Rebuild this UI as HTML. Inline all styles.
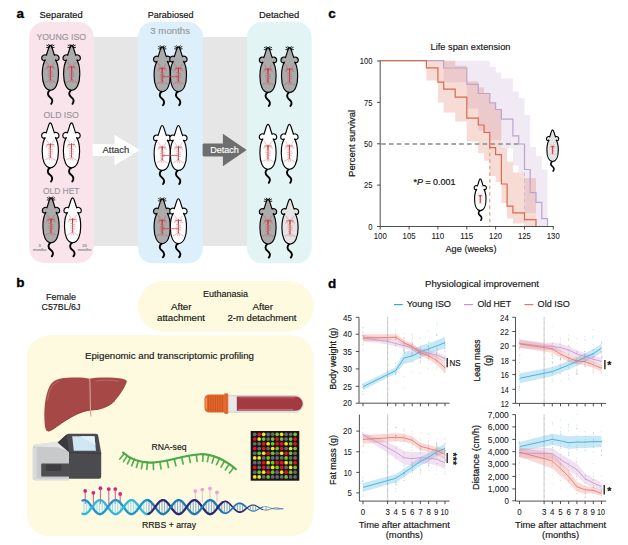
<!DOCTYPE html>
<html><head><meta charset="utf-8"><title>Figure</title>
<style>
html,body{margin:0;padding:0;background:#fff;}
body{width:628px;height:545px;overflow:hidden;font-family:"Liberation Sans",sans-serif;}
svg{display:block;}
svg text{font-family:"Liberation Sans",sans-serif;}
</style></head><body>
<svg width="628" height="545" viewBox="0 0 628 545">
<defs>
<path id="mb" d="M0,0.3 C0.9,0.3 1.5,2 2.1,4 C2.8,6.3 3.4,8.5 4.1,10.2 C5.6,9.2 8.7,10.2 8.7,12.9 C8.7,15.5 6.5,16.2 4.9,14.7 C6.6,17 8.1,22 8.1,29 C8.1,38 5.3,45.2 0,45.2 C-5.3,45.2 -8.1,38 -8.1,29 C-8.1,22 -6.6,17 -4.9,14.7 C-6.5,16.2 -8.7,15.5 -8.7,12.9 C-8.7,10.2 -5.6,9.2 -4.1,10.2 C-3.4,8.5 -2.8,6.3 -2.1,4 C-1.5,2 -0.9,0.3 0,0.3 Z"/>
<g id="mv" fill="none" stroke="#cf2c34" stroke-linecap="round">
<path d="M0,21 V34.4" stroke-width="0.75"/>
<path d="M0,21.6 V25" stroke-width="1"/>
<path d="M-3.2,21.8 L0,22.3 L3.2,21.8" stroke-width="0.5"/>
<path d="M-1,21.9 L-3.6,17.4 M1,21.9 L3.8,17.6 M-3.2,21.8 L-4.3,24.6 M3.2,21.8 L4.3,24.6 M-2,22 L-2.6,24 M2,22 L2.6,24" stroke-width="0.3"/>
<path d="M0,27 H2.2 M0,29.2 H2.5 M0,31.4 H2.2 M0,26 H-2 M0,28.4 H-2.3 M0,30.6 H-1.9 M0,32.8 H-1.6" stroke-width="0.36"/>
<path d="M0,34 L-2.5,36 L-5,37.2 M0,34 L2.6,36.2 L5.2,37.6 M0,34.4 L-1,37.4 M0,34.4 L1.2,37.6" stroke-width="0.33"/>
</g>
<path id="mt" d="M-0.3,45 C-3.2,47 -3.2,50.2 -0.4,52.2 C2.3,54.2 2.6,56.6 0.8,58.8" fill="none" stroke="#000" stroke-linecap="round"/>
<path id="mw" d="M-1,1.6 L-3.6,0.2 M-1.4,2.6 L-3.8,2.4 M1,1.6 L3.6,0.2 M1.4,2.6 L3.8,2.4 M-0.6,1 L-1.8,-0.7 M0.6,1 L1.8,-0.7" fill="none" stroke="#000" stroke-width="0.85" stroke-linecap="round"/>
<g id="my"><use href="#mt" stroke-width="1.9"/><use href="#mb" stroke="#000" stroke-width="1.15"/><use href="#mw"/><use href="#mv"/></g>
<g id="mo"><use href="#mt" stroke-width="1.9"/><use href="#mb" stroke="#000" stroke-width="1.15"/><use href="#mv"/></g>
<g id="ms"><use href="#mt" stroke-width="2.3"/><use href="#mb" stroke="#000" stroke-width="1.6"/><g transform="translate(0,7.5) scale(0.75)"><use href="#mv"/></g><path d="M0,24 V34.2 M-2,24.2 H2" stroke="#d2343a" stroke-width="1.1" fill="none"/></g>
</defs>

<rect x="93" y="37" width="160" height="209" fill="#e6e6e6"/>
<rect x="29.2" y="22" width="64.5" height="241" rx="15" fill="#f9e4ec"/>
<rect x="138" y="22" width="65" height="241.3" rx="15" fill="#dceffb"/>
<rect x="246.9" y="22" width="64.8" height="241.3" rx="15" fill="#e3f4f4"/>
<text x="16.4" y="17.7" font-size="13.5" font-weight="bold" fill="#000" stroke="#000" stroke-width="0.3">a</text>
<text x="39.5" y="18.0" font-size="9.6" fill="#111" stroke="#111" stroke-width="0.16" textLength="43.3" lengthAdjust="spacingAndGlyphs" >Separated</text>
<text x="147.8" y="18.0" font-size="9.6" fill="#111" stroke="#111" stroke-width="0.16" textLength="45.7" lengthAdjust="spacingAndGlyphs" >Parabiosed</text>
<text x="259.0" y="18.0" font-size="9.6" fill="#111" stroke="#111" stroke-width="0.16" textLength="40.2" lengthAdjust="spacingAndGlyphs" >Detached</text>
<text x="150.3" y="33.6" font-size="9.3" fill="#9a9a9a" stroke="#9a9a9a" stroke-width="0.16" textLength="39.8" lengthAdjust="spacingAndGlyphs" >3 months</text>
<text x="36.4" y="40.3" font-size="9.3" fill="#9a959a" stroke="#9a959a" stroke-width="0.16" textLength="49.7" lengthAdjust="spacingAndGlyphs" >YOUNG ISO</text>
<text x="43.5" y="118.0" font-size="9.3" fill="#9a959a" stroke="#9a959a" stroke-width="0.16" textLength="35.4" lengthAdjust="spacingAndGlyphs" >OLD ISO</text>
<text x="42.9" y="194.0" font-size="9.3" fill="#9a959a" stroke="#9a959a" stroke-width="0.16" textLength="36.6" lengthAdjust="spacingAndGlyphs" >OLD HET</text>
<path d="M92.5,144 H114.5 V134.7 L140,150 L114.5,165.3 V156 H92.5 Z" fill="#fff"/>
<path d="M204,143.4 H222.9 V133.8 L246.7,150 L222.9,166.2 V156.4 H204 Q202.6,156.4 202.6,155 V144.8 Q202.6,143.4 204,143.4 Z" fill="#6e6e6e"/>
<text x="102.5" y="153.0" font-size="9.3" fill="#333" stroke="#333" stroke-width="0.16" textLength="26.8" lengthAdjust="spacingAndGlyphs" >Attach</text>
<text x="210.2" y="152.8" font-size="9.3" fill="#fff" stroke="#fff" stroke-width="0.16" textLength="28.7" lengthAdjust="spacingAndGlyphs" >Detach</text>
<use href="#my" x="50.4" y="45" fill="#ababab"/>
<use href="#my" x="71.7" y="45" fill="#ababab"/>
<use href="#mo" x="50.3" y="122.6" fill="#ffffff"/>
<use href="#mo" x="71.5" y="122.6" fill="#ffffff"/>
<use href="#my" x="51" y="197.5" fill="#ababab"/>
<use href="#mo" x="72.6" y="197.5" fill="#ffffff"/>
<use href="#my" x="162.2" y="46.4" fill="#ababab"/>
<use href="#my" x="178.4" y="46.4" fill="#ababab"/>
<path d="M162.4,76.7 H178.2" stroke="#d2343a" stroke-width="0.7" fill="none"/>
<use href="#mo" x="162.2" y="125.2" fill="#ffffff"/>
<use href="#mo" x="178.4" y="125.2" fill="#ffffff"/>
<path d="M162.4,155.5 H178.2" stroke="#d2343a" stroke-width="0.7" fill="none"/>
<use href="#my" x="162.2" y="198.4" fill="#ababab"/>
<use href="#mo" x="178.4" y="198.4" fill="#ffffff"/>
<path d="M162.4,228.70000000000002 H178.2" stroke="#d2343a" stroke-width="0.7" fill="none"/>
<use href="#my" x="268" y="47.2" fill="#ababab"/>
<use href="#my" x="289.6" y="47.2" fill="#ababab"/>
<use href="#mo" x="268" y="124" fill="#ffffff"/>
<use href="#mo" x="289.4" y="124" fill="#ffffff"/>
<use href="#my" x="268" y="198.8" fill="#ababab"/>
<use href="#mo" x="290" y="198.8" fill="#e6e4e4"/>
<text x="39.7" y="247.4" font-size="4.1" fill="#8c8c8c" stroke="#8c8c8c" stroke-width="0.18" text-anchor="middle" >3</text>
<text x="39.7" y="251.2" font-size="4.1" fill="#8c8c8c" stroke="#8c8c8c" stroke-width="0.18" text-anchor="middle" >months</text>
<text x="84.6" y="247.4" font-size="4.1" fill="#8c8c8c" stroke="#8c8c8c" stroke-width="0.18" text-anchor="middle" >20</text>
<text x="84.6" y="251.2" font-size="4.1" fill="#8c8c8c" stroke="#8c8c8c" stroke-width="0.18" text-anchor="middle" >months</text>
<text x="328.2" y="17.7" font-size="13.5" font-weight="bold" fill="#000" stroke="#000" stroke-width="0.3">c</text>
<text x="430.5" y="50.0" font-size="9.3" fill="#161616" stroke="#161616" stroke-width="0.16" textLength="80.0" lengthAdjust="spacingAndGlyphs" >Life span extension</text>
<polygon points="443.7,60.7 489.8,60.7 489.8,66.9 495.6,66.9 495.6,72.4 501.4,72.4 501.4,78.4 512.9,78.4 512.9,91.3 518.7,91.3 518.7,98.0 524.5,98.0 524.5,115.0 530.2,115.0 530.2,147.0 536.0,147.0 536.0,156.0 541.8,156.0 541.8,169.5 547.5,169.5 547.5,226.5 547.5,226.5 547.5,226.5 547.5,226.5 547.5,226.5 536.0,226.5 536.0,212.9 524.5,212.9 524.5,172.4 518.7,172.4 518.7,165.6 512.9,165.6 512.9,148.3 501.4,148.3 501.4,140.0 489.8,140.0 489.8,130.7 478.3,130.7 478.3,108.5 466.8,108.5 466.8,82.2 443.7,82.2" fill="#c3a3cd" fill-opacity="0.24"/>
<polygon points="426.4,60.7 455.2,60.7 455.2,65.7 466.8,65.7 466.8,81.3 478.3,81.3 478.3,87.4 484.1,87.4 484.1,93.4 489.8,93.4 489.8,103.2 495.6,103.2 495.6,110.5 501.4,110.5 501.4,148.0 507.1,148.0 507.1,161.8 512.9,161.8 512.9,172.4 524.5,172.4 524.5,178.0 536.0,178.0 536.0,226.5 536.0,226.5 536.0,226.5 536.0,226.5 536.0,226.5 524.5,226.5 524.5,223.4 512.9,223.4 512.9,218.6 507.1,218.6 507.1,203.0 501.4,203.0 501.4,182.0 495.6,182.0 495.6,176.0 489.8,176.0 489.8,160.8 484.1,160.8 484.1,153.0 478.3,153.0 478.3,141.6 466.8,141.6 466.8,121.4 455.2,121.4 455.2,112.5 443.7,112.5 443.7,102.6 437.9,102.6 437.9,80.6 426.4,80.6" fill="#dc6a50" fill-opacity="0.24"/>
<path d="M381.2,144 H519" stroke="#8a8a8a" stroke-width="1.3" stroke-dasharray="4.6,3.2" fill="none"/>
<path d="M489.8,146 V226" stroke="#e08a76" stroke-width="1" stroke-dasharray="3.6,3" fill="none"/>
<path d="M524.5,146 V226" stroke="#cdbbdc" stroke-width="1" stroke-dasharray="3.6,3" fill="none"/>
<path d="M380.7,60.7 H443.7 V68.0 H466.8 V84.3 H478.3 V93.5 H489.8 V102.8 H495.6 V109.6 H501.4 V119.2 H512.9 V135.9 H518.7 V144.0 H524.5 V169.5 H530.2 V192.6 H536.0 V202.3 H541.8 V218.6 H547.5 V226.3 H547.5" stroke="#bda4cd" stroke-width="1.2" fill="none" stroke-linejoin="miter"/>
<path d="M380.7,60.7 H426.4 V67.9 H437.9 V82.2 H443.7 V89.2 H455.2 V97.2 H466.8 V118.2 H478.3 V125.0 H484.1 V132.3 H489.8 V147.7 H495.6 V154.7 H501.4 V184.0 H507.1 V206.1 H512.9 V212.9 H524.5 V219.6 H536.0 V226.3 H536.0" stroke="#d9694f" stroke-width="1.2" fill="none" stroke-linejoin="miter"/>
<path d="M380.2,60.3 V226.5 H553.8" stroke="#3a3a3a" stroke-width="0.9" fill="none"/>
<path d="M377.0,226.5 H380.2" stroke="#3a3a3a" stroke-width="0.9"/>
<text x="368.2" y="229.7" font-size="8.8" fill="#161616" stroke="#161616" stroke-width="0.08" textLength="4.2" lengthAdjust="spacingAndGlyphs">0</text>
<path d="M377.0,185.1 H380.2" stroke="#3a3a3a" stroke-width="0.9"/>
<text x="364.0" y="188.3" font-size="8.8" fill="#161616" stroke="#161616" stroke-width="0.08" textLength="8.4" lengthAdjust="spacingAndGlyphs">25</text>
<path d="M377.0,143.8 H380.2" stroke="#3a3a3a" stroke-width="0.9"/>
<text x="364.0" y="146.9" font-size="8.8" fill="#161616" stroke="#161616" stroke-width="0.08" textLength="8.4" lengthAdjust="spacingAndGlyphs">50</text>
<path d="M377.0,102.4 H380.2" stroke="#3a3a3a" stroke-width="0.9"/>
<text x="364.0" y="105.5" font-size="8.8" fill="#161616" stroke="#161616" stroke-width="0.08" textLength="8.4" lengthAdjust="spacingAndGlyphs">75</text>
<path d="M377.0,61.0 H380.2" stroke="#3a3a3a" stroke-width="0.9"/>
<text x="359.8" y="64.2" font-size="8.8" fill="#161616" stroke="#161616" stroke-width="0.08" textLength="12.6" lengthAdjust="spacingAndGlyphs">100</text>
<path d="M380.2,226.5 V229.5" stroke="#3a3a3a" stroke-width="0.9"/>
<text x="373.8" y="239.1" font-size="8.6" fill="#161616" stroke="#161616" stroke-width="0.08" textLength="12.9" lengthAdjust="spacingAndGlyphs">100</text>
<path d="M409.1,226.5 V229.5" stroke="#3a3a3a" stroke-width="0.9"/>
<text x="402.6" y="239.1" font-size="8.6" fill="#161616" stroke="#161616" stroke-width="0.08" textLength="12.9" lengthAdjust="spacingAndGlyphs">105</text>
<path d="M437.9,226.5 V229.5" stroke="#3a3a3a" stroke-width="0.9"/>
<text x="431.4" y="239.1" font-size="8.6" fill="#161616" stroke="#161616" stroke-width="0.08" textLength="12.9" lengthAdjust="spacingAndGlyphs">110</text>
<path d="M466.8,226.5 V229.5" stroke="#3a3a3a" stroke-width="0.9"/>
<text x="460.3" y="239.1" font-size="8.6" fill="#161616" stroke="#161616" stroke-width="0.08" textLength="12.9" lengthAdjust="spacingAndGlyphs">115</text>
<path d="M495.6,226.5 V229.5" stroke="#3a3a3a" stroke-width="0.9"/>
<text x="489.1" y="239.1" font-size="8.6" fill="#161616" stroke="#161616" stroke-width="0.08" textLength="12.9" lengthAdjust="spacingAndGlyphs">120</text>
<path d="M524.5,226.5 V229.5" stroke="#3a3a3a" stroke-width="0.9"/>
<text x="518.0" y="239.1" font-size="8.6" fill="#161616" stroke="#161616" stroke-width="0.08" textLength="12.9" lengthAdjust="spacingAndGlyphs">125</text>
<path d="M553.3,226.5 V229.5" stroke="#3a3a3a" stroke-width="0.9"/>
<text x="546.8" y="239.1" font-size="8.6" fill="#161616" stroke="#161616" stroke-width="0.08" textLength="12.9" lengthAdjust="spacingAndGlyphs">130</text>
<text transform="translate(355,176.9) rotate(-90)" font-size="9.3" fill="#161616" stroke="#161616" stroke-width="0.22" textLength="67" lengthAdjust="spacingAndGlyphs">Percent survival</text>
<text x="445.5" y="251.8" font-size="9.3" fill="#161616" stroke="#161616" stroke-width="0.16" textLength="51.0" lengthAdjust="spacingAndGlyphs" >Age (weeks)</text>
<text x="413.5" y="184.6" font-size="9.3" fill="#161616" stroke="#161616" stroke-width="0.22" textLength="42" lengthAdjust="spacingAndGlyphs">*<tspan font-style="italic">P</tspan> = 0.001</text>
<g transform="translate(480.3,178.7) scale(0.705)"><use href="#ms" fill="#fff"/></g>
<g transform="translate(552.6,129.6) scale(0.705)"><use href="#ms" fill="#e4e4e4"/></g>
<text x="16.2" y="287.3" font-size="13.5" font-weight="bold" fill="#000" stroke="#000" stroke-width="0.3">b</text>
<text x="46.0" y="299.6" font-size="9.3" fill="#161616" stroke="#161616" stroke-width="0.16" textLength="30.0" lengthAdjust="spacingAndGlyphs" >Female</text>
<text x="41.5" y="310.4" font-size="9.3" fill="#161616" stroke="#161616" stroke-width="0.16" textLength="39.0" lengthAdjust="spacingAndGlyphs" >C57BL/6J</text>
<rect x="137.9" y="281" width="175.8" height="50.6" rx="25.3" fill="#fdfadf"/>
<rect x="27" y="335.3" width="286.7" height="200.8" rx="22" fill="#fdfadf"/>
<text x="203.0" y="296.6" font-size="9.3" fill="#161616" stroke="#161616" stroke-width="0.16" textLength="45.0" lengthAdjust="spacingAndGlyphs" >Euthanasia</text>
<text x="171.0" y="310.4" font-size="9.3" fill="#161616" stroke="#161616" stroke-width="0.16" textLength="20.5" lengthAdjust="spacingAndGlyphs" >After</text>
<text x="157.0" y="321.0" font-size="9.3" fill="#161616" stroke="#161616" stroke-width="0.16" textLength="48.0" lengthAdjust="spacingAndGlyphs" >attachment</text>
<text x="252.5" y="310.4" font-size="9.3" fill="#161616" stroke="#161616" stroke-width="0.16" textLength="20.5" lengthAdjust="spacingAndGlyphs" >After</text>
<text x="227.5" y="321.0" font-size="9.3" fill="#161616" stroke="#161616" stroke-width="0.16" textLength="69.0" lengthAdjust="spacingAndGlyphs" >2-m detachment</text>
<text x="85.0" y="359.0" font-size="9.3" fill="#161616" stroke="#161616" stroke-width="0.16" textLength="169.0" lengthAdjust="spacingAndGlyphs" >Epigenomic and transcriptomic profiling</text>
<text x="151.5" y="450.0" font-size="9.3" fill="#161616" stroke="#161616" stroke-width="0.16" textLength="35.0" lengthAdjust="spacingAndGlyphs" >RNA-seq</text>
<text x="142.0" y="528.0" font-size="9.3" fill="#161616" stroke="#161616" stroke-width="0.16" textLength="54.0" lengthAdjust="spacingAndGlyphs" >RRBS + array</text>
<path d="M44.4,418 C44,408 45.4,395 49.5,386.6 C52.5,380.6 58,378.2 67,377.8 C76,377.3 84,377.4 89.5,378.7 C94,377.5 104,377.2 114,377.7 C121,378 127.6,379.2 126.8,381.8 C125.6,386 121,394 115,400.5 C109,406.5 101,409.6 92,409.9 C84,410.4 76,414 67,419.5 C59,424.5 53,430 48.4,431.2 C45,432 44.6,425 44.4,418 Z" fill="#a54846"/>
<path d="M48.4,431.2 C53,430 59,424.5 67,419.5 C76,414 84,410.4 92,409.9 C101,409.6 109,406.5 115,400.5" stroke="#8f3b3b" stroke-width="1" fill="none"/>
<path d="M47.6,400 C48.6,391 51.5,384 59,381.2" stroke="#bd6e68" stroke-width="1" fill="none" stroke-linecap="round"/>
<path d="M96,381 C104,379.6 112,380 118,381.2" stroke="#bd6e68" stroke-width="0.9" fill="none" stroke-linecap="round"/>
<path d="M89.6,378.7 C90.6,390 89.8,402 90.9,416" stroke="#dba097" stroke-width="1.1" fill="none" stroke-linecap="round"/>
<path d="M32.8,448 Q32.8,445.4 35,444.6 L58,441.8 L69,452 L69,480.3 L35,480.3 Q32.8,480.3 32.8,478.2 Z" fill="#c7c9cb"/>
<path d="M32.8,448 L36.6,447 L36.6,480.3 L35,480.3 Q32.8,480.3 32.8,478.2 Z" fill="#d9dadc"/>
<path d="M35,478.6 H69 V480.3 H35 Z" fill="#dcddde"/>
<path d="M33,446.6 Q33.4,444.6 35.4,444.2 L57.8,441.8 L68,451 L58,447.2 Z" fill="#e3e4e5"/>
<path d="M57.7,442.4 L66.6,434.6 Q67.4,433.8 68.6,433.8 L96,433.8 Q98,433.8 98.2,435.6 L101.2,453 L101.2,476.8 Q101.2,478.8 99.2,478.8 L69,478.8 L69,452 Z" fill="#4b4b4f"/>
<path d="M57.7,442.4 L66.6,434.6 L69,452 Z" fill="#3a3a3e"/>
<path d="M72.2,436.2 L94.4,436.2 L96,450.8 L73.8,450.8 Z" fill="#cfe6f3"/>
<path d="M80,436.2 L94.4,436.2 L95.4,445 Z" fill="#e3f1f9"/>
<path d="M69,452.6 L101.2,453.4" stroke="#333337" stroke-width="0.8"/>
<rect x="41.2" y="463.6" width="29" height="12.8" rx="1" fill="#4e4e53"/>
<path d="M46,464.4 H61.5 V469.8 Q61.5,471 60.3,471 H47.2 Q46,471 46,469.8 Z" fill="#3d3d42"/>
<rect x="220" y="395.6" width="83.2" height="16.6" rx="8.2" fill="#e8e8ea" stroke="#c4c4c8" stroke-width="0.7"/>
<path d="M236.8,396.6 H295.6 A7.1,7.1 0 0 1 295.6,410.8 H236.8 Z" fill="#a23a40"/>
<path d="M238.4,397.8 H295" stroke="#c06a70" stroke-width="0.7"/>
<path d="M238.4,409.6 H293" stroke="#d9a3a6" stroke-width="0.6"/>
<path d="M209.5,394.6 H225 V412.6 H209.5 Q204.5,412.6 204.5,407.6 V399.6 Q204.5,394.6 209.5,394.6 Z" fill="#e2652b"/>
<path d="M208.6,395.4 V411.8" stroke="#cc531f" stroke-width="0.8"/>
<path d="M210.9,395.4 V411.8" stroke="#cc531f" stroke-width="0.8"/>
<path d="M213.2,395.4 V411.8" stroke="#cc531f" stroke-width="0.8"/>
<path d="M215.5,395.4 V411.8" stroke="#cc531f" stroke-width="0.8"/>
<path d="M217.8,395.4 V411.8" stroke="#cc531f" stroke-width="0.8"/>
<path d="M220.1,395.4 V411.8" stroke="#cc531f" stroke-width="0.8"/>
<path d="M222.4,395.4 V411.8" stroke="#cc531f" stroke-width="0.8"/>
<path d="M206.2,398.5 V408.6" stroke="#ef8a52" stroke-width="1.6" stroke-linecap="round"/>
<rect x="224" y="393.2" width="4.3" height="20.7" rx="1.4" fill="#e66c31"/>
<path d="M226.2,394.2 V412.8" stroke="#cf5a24" stroke-width="0.8"/>
<rect x="250.7" y="431" width="48.6" height="49.7" fill="#161616"/>
<circle cx="254.70" cy="434.30" r="1.85" fill="#6a6a6a"/>
<circle cx="259.19" cy="434.30" r="1.85" fill="#e3141a"/>
<circle cx="263.68" cy="434.30" r="1.85" fill="#f3e51c"/>
<circle cx="268.17" cy="434.30" r="1.85" fill="#6a6a6a"/>
<circle cx="272.66" cy="434.30" r="1.85" fill="#6a6a6a"/>
<circle cx="277.15" cy="434.30" r="1.85" fill="#79bf2e"/>
<circle cx="281.64" cy="434.30" r="1.85" fill="#f3e51c"/>
<circle cx="286.13" cy="434.30" r="1.85" fill="#6a6a6a"/>
<circle cx="290.62" cy="434.30" r="1.85" fill="#6a6a6a"/>
<circle cx="295.11" cy="434.30" r="1.85" fill="#79bf2e"/>
<circle cx="254.70" cy="439.03" r="1.85" fill="#e3141a"/>
<circle cx="259.19" cy="439.03" r="1.85" fill="#f3e51c"/>
<circle cx="263.68" cy="439.03" r="1.85" fill="#79bf2e"/>
<circle cx="268.17" cy="439.03" r="1.85" fill="#6a6a6a"/>
<circle cx="272.66" cy="439.03" r="1.85" fill="#79bf2e"/>
<circle cx="277.15" cy="439.03" r="1.85" fill="#e3141a"/>
<circle cx="281.64" cy="439.03" r="1.85" fill="#79bf2e"/>
<circle cx="286.13" cy="439.03" r="1.85" fill="#6a6a6a"/>
<circle cx="290.62" cy="439.03" r="1.85" fill="#79bf2e"/>
<circle cx="295.11" cy="439.03" r="1.85" fill="#e3141a"/>
<circle cx="254.70" cy="443.77" r="1.85" fill="#6a6a6a"/>
<circle cx="259.19" cy="443.77" r="1.85" fill="#6a6a6a"/>
<circle cx="263.68" cy="443.77" r="1.85" fill="#e3141a"/>
<circle cx="268.17" cy="443.77" r="1.85" fill="#f3e51c"/>
<circle cx="272.66" cy="443.77" r="1.85" fill="#79bf2e"/>
<circle cx="277.15" cy="443.77" r="1.85" fill="#e3141a"/>
<circle cx="281.64" cy="443.77" r="1.85" fill="#e3141a"/>
<circle cx="286.13" cy="443.77" r="1.85" fill="#f3e51c"/>
<circle cx="290.62" cy="443.77" r="1.85" fill="#79bf2e"/>
<circle cx="295.11" cy="443.77" r="1.85" fill="#e3141a"/>
<circle cx="254.70" cy="448.50" r="1.85" fill="#e3141a"/>
<circle cx="259.19" cy="448.50" r="1.85" fill="#6a6a6a"/>
<circle cx="263.68" cy="448.50" r="1.85" fill="#e3141a"/>
<circle cx="268.17" cy="448.50" r="1.85" fill="#6a6a6a"/>
<circle cx="272.66" cy="448.50" r="1.85" fill="#f3e51c"/>
<circle cx="277.15" cy="448.50" r="1.85" fill="#79bf2e"/>
<circle cx="281.64" cy="448.50" r="1.85" fill="#e3141a"/>
<circle cx="286.13" cy="448.50" r="1.85" fill="#6a6a6a"/>
<circle cx="290.62" cy="448.50" r="1.85" fill="#f3e51c"/>
<circle cx="295.11" cy="448.50" r="1.85" fill="#79bf2e"/>
<circle cx="254.70" cy="453.23" r="1.85" fill="#6a6a6a"/>
<circle cx="259.19" cy="453.23" r="1.85" fill="#79bf2e"/>
<circle cx="263.68" cy="453.23" r="1.85" fill="#f3e51c"/>
<circle cx="268.17" cy="453.23" r="1.85" fill="#e3141a"/>
<circle cx="272.66" cy="453.23" r="1.85" fill="#79bf2e"/>
<circle cx="277.15" cy="453.23" r="1.85" fill="#6a6a6a"/>
<circle cx="281.64" cy="453.23" r="1.85" fill="#f3e51c"/>
<circle cx="286.13" cy="453.23" r="1.85" fill="#e3141a"/>
<circle cx="290.62" cy="453.23" r="1.85" fill="#79bf2e"/>
<circle cx="295.11" cy="453.23" r="1.85" fill="#6a6a6a"/>
<circle cx="254.70" cy="457.97" r="1.85" fill="#f3e51c"/>
<circle cx="259.19" cy="457.97" r="1.85" fill="#f3e51c"/>
<circle cx="263.68" cy="457.97" r="1.85" fill="#6a6a6a"/>
<circle cx="268.17" cy="457.97" r="1.85" fill="#79bf2e"/>
<circle cx="272.66" cy="457.97" r="1.85" fill="#6a6a6a"/>
<circle cx="277.15" cy="457.97" r="1.85" fill="#6a6a6a"/>
<circle cx="281.64" cy="457.97" r="1.85" fill="#6a6a6a"/>
<circle cx="286.13" cy="457.97" r="1.85" fill="#79bf2e"/>
<circle cx="290.62" cy="457.97" r="1.85" fill="#6a6a6a"/>
<circle cx="295.11" cy="457.97" r="1.85" fill="#6a6a6a"/>
<circle cx="254.70" cy="462.70" r="1.85" fill="#6a6a6a"/>
<circle cx="259.19" cy="462.70" r="1.85" fill="#6a6a6a"/>
<circle cx="263.68" cy="462.70" r="1.85" fill="#e3141a"/>
<circle cx="268.17" cy="462.70" r="1.85" fill="#f3e51c"/>
<circle cx="272.66" cy="462.70" r="1.85" fill="#79bf2e"/>
<circle cx="277.15" cy="462.70" r="1.85" fill="#e3141a"/>
<circle cx="281.64" cy="462.70" r="1.85" fill="#e3141a"/>
<circle cx="286.13" cy="462.70" r="1.85" fill="#f3e51c"/>
<circle cx="290.62" cy="462.70" r="1.85" fill="#79bf2e"/>
<circle cx="295.11" cy="462.70" r="1.85" fill="#e3141a"/>
<circle cx="254.70" cy="467.43" r="1.85" fill="#e3141a"/>
<circle cx="259.19" cy="467.43" r="1.85" fill="#6a6a6a"/>
<circle cx="263.68" cy="467.43" r="1.85" fill="#e3141a"/>
<circle cx="268.17" cy="467.43" r="1.85" fill="#6a6a6a"/>
<circle cx="272.66" cy="467.43" r="1.85" fill="#f3e51c"/>
<circle cx="277.15" cy="467.43" r="1.85" fill="#79bf2e"/>
<circle cx="281.64" cy="467.43" r="1.85" fill="#e3141a"/>
<circle cx="286.13" cy="467.43" r="1.85" fill="#6a6a6a"/>
<circle cx="290.62" cy="467.43" r="1.85" fill="#f3e51c"/>
<circle cx="295.11" cy="467.43" r="1.85" fill="#79bf2e"/>
<circle cx="254.70" cy="472.16" r="1.85" fill="#6a6a6a"/>
<circle cx="259.19" cy="472.16" r="1.85" fill="#79bf2e"/>
<circle cx="263.68" cy="472.16" r="1.85" fill="#f3e51c"/>
<circle cx="268.17" cy="472.16" r="1.85" fill="#e3141a"/>
<circle cx="272.66" cy="472.16" r="1.85" fill="#79bf2e"/>
<circle cx="277.15" cy="472.16" r="1.85" fill="#6a6a6a"/>
<circle cx="281.64" cy="472.16" r="1.85" fill="#f3e51c"/>
<circle cx="286.13" cy="472.16" r="1.85" fill="#e3141a"/>
<circle cx="290.62" cy="472.16" r="1.85" fill="#79bf2e"/>
<circle cx="295.11" cy="472.16" r="1.85" fill="#6a6a6a"/>
<circle cx="254.70" cy="476.90" r="1.85" fill="#f3e51c"/>
<circle cx="259.19" cy="476.90" r="1.85" fill="#f3e51c"/>
<circle cx="263.68" cy="476.90" r="1.85" fill="#6a6a6a"/>
<circle cx="268.17" cy="476.90" r="1.85" fill="#79bf2e"/>
<circle cx="272.66" cy="476.90" r="1.85" fill="#6a6a6a"/>
<circle cx="277.15" cy="476.90" r="1.85" fill="#6a6a6a"/>
<circle cx="281.64" cy="476.90" r="1.85" fill="#6a6a6a"/>
<circle cx="286.13" cy="476.90" r="1.85" fill="#79bf2e"/>
<circle cx="290.62" cy="476.90" r="1.85" fill="#6a6a6a"/>
<circle cx="295.11" cy="476.90" r="1.85" fill="#6a6a6a"/>
<path d="M124.3,453.6 L119.8,459.0 M127.3,455.8 L123.4,461.6 M130.6,457.7 L127.4,463.9 M134.2,459.4 L131.7,465.9 M138.3,460.7 L136.4,467.5 M142.7,461.8 L141.4,468.6 M147.5,462.4 L146.8,469.4 M153.3,462.6 L153.5,469.6 M160.0,462.0 L161.0,468.9 M167.0,460.7 L168.5,467.5 M174.2,459.0 L175.9,465.8 M181.6,457.2 L183.2,464.0 M189.0,455.6 L190.3,462.5 M196.3,454.5 L197.1,461.4 M203.0,454.2 L202.7,461.2 M208.7,454.8 L207.4,461.7 M214.2,456.3 L212.0,462.9 M219.5,458.4 L216.5,464.7 M224.5,461.0 L221.0,467.1 M229.3,464.1 L225.3,469.9 M233.8,467.5 L229.5,473.0 " stroke="#55b24f" stroke-width="1.7" fill="none" stroke-linecap="round"/>
<path d="M123,452.4 C129,458 138,462 150,462.6 C165,463.4 183,455 200,454.2 C214,453.6 226,461 236,469.2" stroke="#4aa845" stroke-width="2.1" fill="none" stroke-linecap="round"/>
<path d="M85.2,490.9 V504" stroke="#cf2a86" stroke-width="0.8"/><circle cx="85.2" cy="490.9" r="1.9" fill="#d4237f"/>
<path d="M93.4,492.8 V504" stroke="#cf2a86" stroke-width="0.8"/><circle cx="93.4" cy="492.8" r="1.9" fill="#d4237f"/>
<path d="M100.4,488.2 V504" stroke="#cf2a86" stroke-width="0.8"/><circle cx="100.4" cy="488.2" r="1.9" fill="#d4237f"/>
<path d="M108.8,489.1 V504" stroke="#cf2a86" stroke-width="0.8"/><circle cx="108.8" cy="489.1" r="1.9" fill="#d4237f"/>
<path d="M115.3,489.1 V504" stroke="#cf2a86" stroke-width="0.8"/><circle cx="115.3" cy="489.1" r="1.9" fill="#d4237f"/>
<path d="M120.2,494 V504" stroke="#cf2a86" stroke-width="0.8"/><circle cx="120.2" cy="494" r="1.9" fill="#d4237f"/>
<path d="M195.4,491.1 V502" stroke="#e5a9d0" stroke-width="0.8"/><circle cx="195.4" cy="491.1" r="1.9" fill="#e8a6d0"/>
<path d="M202.3,489.6 V502" stroke="#e5a9d0" stroke-width="0.8"/><circle cx="202.3" cy="489.6" r="1.9" fill="#e8a6d0"/>
<path d="M210,488.6 V502" stroke="#e5a9d0" stroke-width="0.8"/><circle cx="210" cy="488.6" r="1.9" fill="#e8a6d0"/>
<path d="M217,492.4 V502" stroke="#e5a9d0" stroke-width="0.8"/><circle cx="217" cy="492.4" r="1.9" fill="#e8a6d0"/>
<path d="M84.0,500.9 V513.3 M86.6,501.7 V512.5 M89.2,504.1 V510.1 M94.4,504.8 V509.4 M97.0,502.1 V512.1 M99.6,500.9 V513.3 M102.2,501.6 V512.6 M104.8,503.9 V510.3 M110.0,505.0 V509.2 M112.6,502.2 V512.0 M115.2,500.9 V513.3 M117.8,501.5 V512.7 M120.4,503.8 V510.4 M125.6,505.1 V509.1 M128.2,502.3 V511.9 M130.8,501.0 V513.2 M133.4,501.4 V512.8 M136.0,503.6 V510.6 M141.2,505.3 V508.9 M143.8,502.4 V511.8 M146.4,501.0 V513.2 " stroke="#8fd6ee" stroke-width="0.9" fill="none"/>
<path d="M149.0,501.3 V512.9 M151.6,503.4 V510.8 M156.8,505.5 V508.7 M159.4,502.6 V511.6 M162.0,501.0 V513.2 M164.6,501.3 V512.9 M167.2,503.3 V510.9 M172.4,505.7 V508.5 M175.0,502.7 V511.5 M177.6,501.1 V513.1 M180.2,501.2 V513.0 M182.8,503.1 V511.1 M185.4,506.3 V507.9 M188.0,505.9 V508.3 M190.6,502.9 V511.3 M193.2,501.1 V513.1 M195.8,501.2 V513.0 M198.4,503.0 V511.2 M201.0,506.1 V508.1 M203.6,506.1 V508.1 M206.2,503.0 V511.2 M208.8,501.2 V513.0 M211.4,501.1 V513.1 M214.0,502.8 V511.4 M216.6,506.0 V508.3 M219.2,506.5 V507.9 M221.8,503.7 V510.8 M224.4,502.3 V512.4 M227.0,502.7 V512.1 M229.6,504.5 V510.4 M234.8,506.6 V508.6 M237.4,504.6 V510.7 M240.0,504.1 V511.3 M242.6,505.0 V510.5 M245.2,507.0 V508.7 M250.4,506.4 V509.6 M253.0,505.8 V510.3 M255.6,506.4 V509.8 M266.0,507.4 V509.3 " stroke="#5f8fc8" stroke-width="0.8" fill="none"/>
<polyline points="82.4,513.7 82.9,513.9 83.4,514.0 83.9,514.1" fill="none" stroke="#2fb7dc" stroke-width="2.3" stroke-linecap="round" stroke-linejoin="round"/>
<polyline points="100.4,500.1 100.9,500.2 101.4,500.4 101.9,500.6 102.4,500.9 102.9,501.3 103.4,501.7 103.9,502.2 104.4,502.7 104.9,503.2 105.4,503.8 105.9,504.5 106.4,505.1 106.9,505.8 107.4,506.5 107.9,507.2 108.4,507.9 108.9,508.6 109.4,509.3 109.9,509.9 110.4,510.5 110.9,511.1 111.4,511.7 111.9,512.2 112.4,512.6 112.9,513.0 113.4,513.4 113.9,513.7 114.4,513.9 114.9,514.0 115.4,514.1" fill="none" stroke="#2fb7dc" stroke-width="2.3" stroke-linecap="round" stroke-linejoin="round"/>
<polyline points="131.9,500.1 132.4,500.2 132.9,500.4 133.4,500.6 133.9,500.9 134.4,501.3 134.9,501.7 135.4,502.2 135.9,502.7 136.4,503.2 136.9,503.8 137.4,504.5 137.9,505.1 138.4,505.8 138.9,506.5 139.4,507.2 139.9,507.9 140.4,508.6 140.9,509.3 141.4,509.9 141.9,510.5 142.4,511.1 142.9,511.7 143.4,512.2 143.9,512.6 144.4,513.0 144.9,513.4 145.4,513.7 145.9,513.9 146.4,514.0 146.9,514.1" fill="none" stroke="#2fb7dc" stroke-width="2.3" stroke-linecap="round" stroke-linejoin="round"/>
<polyline points="163.4,500.1 163.9,500.2 164.4,500.4 164.9,500.6 165.4,500.9 165.9,501.3 166.4,501.7 166.9,502.2 167.4,502.7 167.9,503.2 168.4,503.8 168.9,504.5 169.4,505.1 169.9,505.8 170.4,506.5 170.9,507.2 171.4,507.9 171.9,508.6 172.4,509.3 172.9,509.9 173.4,510.5 173.9,511.1 174.4,511.7 174.9,512.2 175.4,512.6 175.9,513.0 176.4,513.4 176.9,513.7 177.4,513.9 177.9,514.0 178.4,514.1" fill="none" stroke="#2a2a74" stroke-width="2.3" stroke-linecap="round" stroke-linejoin="round"/>
<polyline points="194.9,500.1 195.4,500.2 195.9,500.4 196.4,500.6 196.9,500.9 197.4,501.3 197.9,501.7 198.4,502.2 198.9,502.7 199.4,503.2 199.9,503.8 200.4,504.5 200.9,505.1 201.4,505.8 201.9,506.5 202.4,507.2 202.9,507.9 203.4,508.6 203.9,509.3 204.4,509.9 204.9,510.5 205.4,511.1 205.9,511.7 206.4,512.2 206.9,512.6 207.4,513.0 207.9,513.4 208.4,513.7 208.9,513.9 209.4,514.0 209.9,514.1" fill="none" stroke="#2a2a74" stroke-width="2.3" stroke-linecap="round" stroke-linejoin="round"/>
<polyline points="225.9,501.5 226.4,501.6 226.9,501.8 227.4,502.1 227.9,502.4 228.4,502.7 228.9,503.1 229.4,503.6 229.9,504.0 230.4,504.5 230.9,505.1 231.4,505.6 231.9,506.2 232.4,506.8 232.9,507.4 233.4,507.9 233.9,508.5 234.4,509.0 234.9,509.5 235.4,510.0 235.9,510.4 236.4,510.8 236.9,511.2 237.4,511.5 237.9,511.7 238.4,511.9 238.9,512.1 239.4,512.1 239.9,512.2" fill="none" stroke="#2a2a74" stroke-width="1.7" stroke-linecap="round" stroke-linejoin="round"/>
<polyline points="253.9,505.1 254.4,505.2 254.9,505.3 255.4,505.5 255.9,505.7 256.4,506.0 256.9,506.2 257.4,506.5 257.9,506.8 258.4,507.2 258.9,507.5 259.4,507.8 259.9,508.1 260.4,508.4 260.9,508.7 261.4,509.0 261.9,509.2 262.4,509.4" fill="none" stroke="#2a2a74" stroke-width="1.1" stroke-linecap="round" stroke-linejoin="round"/>
<polyline points="262.4,509.4 262.9,509.6 263.4,509.8 263.9,509.9 264.4,510.0 264.9,510.1 265.4,510.1 265.9,510.1" fill="none" stroke="#2a2a74" stroke-width="0.6" stroke-linecap="round" stroke-linejoin="round"/>
<polyline points="278.4,508.2 278.9,508.3 279.4,508.4 279.9,508.4 280.4,508.5 280.9,508.6 281.4,508.6 281.9,508.7 282.4,508.7 282.9,508.7" fill="none" stroke="#2a2a74" stroke-width="0.6" stroke-linecap="round" stroke-linejoin="round"/>
<polyline points="84.4,500.1 84.9,500.2 85.4,500.3 85.9,500.5 86.4,500.8 86.9,501.1 87.4,501.5 87.9,501.9 88.4,502.4 88.9,503.0 89.4,503.5 89.9,504.2 90.4,504.8 90.9,505.5 91.4,506.2 91.9,506.9 92.4,507.6 92.9,508.2 93.4,508.9 93.9,509.6 94.4,510.2 94.9,510.8 95.4,511.4 95.9,511.9 96.4,512.4 96.9,512.8 97.4,513.2 97.9,513.5 98.4,513.8 98.9,513.9 99.4,514.1 99.9,514.1" fill="none" stroke="#1d93d2" stroke-width="2.3" stroke-linecap="round" stroke-linejoin="round"/>
<polyline points="115.9,500.1 116.4,500.2 116.9,500.3 117.4,500.5 117.9,500.8 118.4,501.1 118.9,501.5 119.4,501.9 119.9,502.4 120.4,503.0 120.9,503.5 121.4,504.2 121.9,504.8 122.4,505.5 122.9,506.2 123.4,506.9 123.9,507.6 124.4,508.2 124.9,508.9 125.4,509.6 125.9,510.2 126.4,510.8 126.9,511.4 127.4,511.9 127.9,512.4 128.4,512.8 128.9,513.2 129.4,513.5 129.9,513.8 130.4,513.9 130.9,514.1 131.4,514.1" fill="none" stroke="#1d93d2" stroke-width="2.3" stroke-linecap="round" stroke-linejoin="round"/>
<polyline points="147.4,500.1 147.9,500.2 148.4,500.3" fill="none" stroke="#1d93d2" stroke-width="2.3" stroke-linecap="round" stroke-linejoin="round"/>
<polyline points="148.4,500.3 148.9,500.5 149.4,500.8 149.9,501.1 150.4,501.5 150.9,501.9 151.4,502.4 151.9,503.0 152.4,503.5 152.9,504.2 153.4,504.8 153.9,505.5 154.4,506.2 154.9,506.9 155.4,507.6 155.9,508.2 156.4,508.9 156.9,509.6 157.4,510.2 157.9,510.8 158.4,511.4 158.9,511.9 159.4,512.4 159.9,512.8 160.4,513.2 160.9,513.5 161.4,513.8 161.9,513.9 162.4,514.1 162.9,514.1" fill="none" stroke="#1f77b4" stroke-width="2.3" stroke-linecap="round" stroke-linejoin="round"/>
<polyline points="178.9,500.1 179.4,500.2 179.9,500.3 180.4,500.5 180.9,500.8 181.4,501.1 181.9,501.5 182.4,501.9 182.9,502.4 183.4,503.0 183.9,503.5 184.4,504.2 184.9,504.8 185.4,505.5 185.9,506.2 186.4,506.9 186.9,507.6 187.4,508.2 187.9,508.9 188.4,509.6 188.9,510.2 189.4,510.8 189.9,511.4 190.4,511.9 190.9,512.4 191.4,512.8 191.9,513.2 192.4,513.5 192.9,513.8 193.4,513.9 193.9,514.1 194.4,514.1" fill="none" stroke="#1f77b4" stroke-width="2.3" stroke-linecap="round" stroke-linejoin="round"/>
<polyline points="210.4,500.1 210.9,500.2 211.4,500.3 211.9,500.5 212.4,500.8 212.9,501.1 213.4,501.5 213.9,501.9 214.4,502.4 214.9,503.0 215.4,503.6 215.9,504.2 216.4,504.9 216.9,505.6 217.4,506.3 217.9,507.0 218.4,507.7 218.9,508.3 219.4,509.0 219.9,509.6 220.4,510.2 220.9,510.7 221.4,511.3 221.9,511.7 222.4,512.1" fill="none" stroke="#1f77b4" stroke-width="2.3" stroke-linecap="round" stroke-linejoin="round"/>
<polyline points="222.4,512.1 222.9,512.5 223.4,512.8 223.9,513.0 224.4,513.2 224.9,513.2 225.4,513.3" fill="none" stroke="#1f77b4" stroke-width="1.7" stroke-linecap="round" stroke-linejoin="round"/>
<polyline points="240.4,503.4 240.9,503.5 241.4,503.6 241.9,503.9 242.4,504.1 242.9,504.4 243.4,504.8 243.9,505.1 244.4,505.6 244.9,506.0 245.4,506.4" fill="none" stroke="#1f77b4" stroke-width="1.7" stroke-linecap="round" stroke-linejoin="round"/>
<polyline points="245.4,506.4 245.9,506.9 246.4,507.3 246.9,507.8 247.4,508.2 247.9,508.6 248.4,509.0 248.9,509.4 249.4,509.8 249.9,510.1 250.4,510.4 250.9,510.6 251.4,510.8 251.9,510.9 252.4,511.0 252.9,511.1 253.4,511.1" fill="none" stroke="#1f77b4" stroke-width="1.1" stroke-linecap="round" stroke-linejoin="round"/>
<polyline points="266.4,506.7 266.9,506.8 267.4,506.9 267.9,507.0 268.4,507.2 268.9,507.3 269.4,507.5 269.9,507.7 270.4,507.9 270.9,508.1 271.4,508.2 271.9,508.4 272.4,508.6 272.9,508.7 273.4,508.9 273.9,509.0 274.4,509.1 274.9,509.1 275.4,509.2 275.9,509.2 276.4,509.2 276.9,509.2 277.4,509.2 277.9,509.2" fill="none" stroke="#1f77b4" stroke-width="0.6" stroke-linecap="round" stroke-linejoin="round"/>
<polyline points="84.4,514.1 84.9,514.0 85.4,513.9 85.9,513.7 86.4,513.4 86.9,513.1 87.4,512.7 87.9,512.3 88.4,511.8 88.9,511.2 89.4,510.7 89.9,510.0 90.4,509.4 90.9,508.7 91.4,508.0 91.9,507.3 92.4,506.6 92.9,506.0 93.4,505.3 93.9,504.6 94.4,504.0 94.9,503.4 95.4,502.8 95.9,502.3 96.4,501.8 96.9,501.4 97.4,501.0 97.9,500.7 98.4,500.4 98.9,500.3 99.4,500.1 99.9,500.1" fill="none" stroke="#2fb7dc" stroke-width="2.3" stroke-linecap="round" stroke-linejoin="round"/>
<polyline points="115.9,514.1 116.4,514.0 116.9,513.9 117.4,513.7 117.9,513.4 118.4,513.1 118.9,512.7 119.4,512.3 119.9,511.8 120.4,511.2 120.9,510.7 121.4,510.0 121.9,509.4 122.4,508.7 122.9,508.0 123.4,507.3 123.9,506.6 124.4,506.0 124.9,505.3 125.4,504.6 125.9,504.0 126.4,503.4 126.9,502.8 127.4,502.3 127.9,501.8 128.4,501.4 128.9,501.0 129.4,500.7 129.9,500.4 130.4,500.3 130.9,500.1 131.4,500.1" fill="none" stroke="#2fb7dc" stroke-width="2.3" stroke-linecap="round" stroke-linejoin="round"/>
<polyline points="147.4,514.1 147.9,514.0 148.4,513.9" fill="none" stroke="#2fb7dc" stroke-width="2.3" stroke-linecap="round" stroke-linejoin="round"/>
<polyline points="148.4,513.9 148.9,513.7 149.4,513.4 149.9,513.1 150.4,512.7 150.9,512.3 151.4,511.8 151.9,511.2 152.4,510.7 152.9,510.0 153.4,509.4 153.9,508.7 154.4,508.0 154.9,507.3 155.4,506.6 155.9,506.0 156.4,505.3 156.9,504.6 157.4,504.0 157.9,503.4 158.4,502.8 158.9,502.3 159.4,501.8 159.9,501.4 160.4,501.0 160.9,500.7 161.4,500.4 161.9,500.3 162.4,500.1 162.9,500.1" fill="none" stroke="#2a2a74" stroke-width="2.3" stroke-linecap="round" stroke-linejoin="round"/>
<polyline points="178.9,514.1 179.4,514.0 179.9,513.9 180.4,513.7 180.9,513.4 181.4,513.1 181.9,512.7 182.4,512.3 182.9,511.8 183.4,511.2 183.9,510.7 184.4,510.0 184.9,509.4 185.4,508.7 185.9,508.0 186.4,507.3 186.9,506.6 187.4,506.0 187.9,505.3 188.4,504.6 188.9,504.0 189.4,503.4 189.9,502.8 190.4,502.3 190.9,501.8 191.4,501.4 191.9,501.0 192.4,500.7 192.9,500.4 193.4,500.3 193.9,500.1 194.4,500.1" fill="none" stroke="#2a2a74" stroke-width="2.3" stroke-linecap="round" stroke-linejoin="round"/>
<polyline points="210.4,514.1 210.9,514.0 211.4,513.9 211.9,513.7 212.4,513.4 212.9,513.1 213.4,512.7 213.9,512.3 214.4,511.8 214.9,511.2 215.4,510.6 215.9,510.0 216.4,509.4 216.9,508.7 217.4,508.0 217.9,507.4 218.4,506.7 218.9,506.1 219.4,505.4 219.9,504.8 220.4,504.3 220.9,503.7 221.4,503.3 221.9,502.8 222.4,502.4" fill="none" stroke="#2a2a74" stroke-width="2.3" stroke-linecap="round" stroke-linejoin="round"/>
<polyline points="222.4,502.4 222.9,502.1 223.4,501.9 223.9,501.7 224.4,501.5 224.9,501.4 225.4,501.4" fill="none" stroke="#2a2a74" stroke-width="1.7" stroke-linecap="round" stroke-linejoin="round"/>
<polyline points="240.4,512.1 240.9,512.0 241.4,511.9 241.9,511.7 242.4,511.4 242.9,511.2 243.4,510.8 243.9,510.5 244.4,510.1 244.9,509.7 245.4,509.3" fill="none" stroke="#2a2a74" stroke-width="1.7" stroke-linecap="round" stroke-linejoin="round"/>
<polyline points="245.4,509.3 245.9,508.9 246.4,508.5 246.9,508.0 247.4,507.6 247.9,507.2 248.4,506.8 248.9,506.5 249.4,506.2 249.9,505.9 250.4,505.6 250.9,505.4 251.4,505.2 251.9,505.1 252.4,505.0 252.9,505.0 253.4,505.0" fill="none" stroke="#2a2a74" stroke-width="1.1" stroke-linecap="round" stroke-linejoin="round"/>
<polyline points="266.4,510.1 266.9,510.0 267.4,509.9 267.9,509.8 268.4,509.7 268.9,509.6 269.4,509.4 269.9,509.3 270.4,509.1 270.9,508.9 271.4,508.8 271.9,508.6 272.4,508.5 272.9,508.4 273.4,508.3 273.9,508.2 274.4,508.1 274.9,508.1 275.4,508.0 275.9,508.0 276.4,508.0 276.9,508.0 277.4,508.1 277.9,508.1" fill="none" stroke="#2a2a74" stroke-width="0.6" stroke-linecap="round" stroke-linejoin="round"/>
<polyline points="82.4,500.5 82.9,500.3 83.4,500.2 83.9,500.1" fill="none" stroke="#1d93d2" stroke-width="2.3" stroke-linecap="round" stroke-linejoin="round"/>
<polyline points="100.4,514.1 100.9,514.0 101.4,513.8 101.9,513.6 102.4,513.3 102.9,512.9 103.4,512.5 103.9,512.0 104.4,511.5 104.9,511.0 105.4,510.4 105.9,509.7 106.4,509.1 106.9,508.4 107.4,507.7 107.9,507.0 108.4,506.3 108.9,505.6 109.4,504.9 109.9,504.3 110.4,503.7 110.9,503.1 111.4,502.5 111.9,502.0 112.4,501.6 112.9,501.2 113.4,500.8 113.9,500.5 114.4,500.3 114.9,500.2 115.4,500.1" fill="none" stroke="#1d93d2" stroke-width="2.3" stroke-linecap="round" stroke-linejoin="round"/>
<polyline points="131.9,514.1 132.4,514.0 132.9,513.8 133.4,513.6 133.9,513.3 134.4,512.9 134.9,512.5 135.4,512.0 135.9,511.5 136.4,511.0 136.9,510.4 137.4,509.7 137.9,509.1 138.4,508.4 138.9,507.7 139.4,507.0 139.9,506.3 140.4,505.6 140.9,504.9 141.4,504.3 141.9,503.7 142.4,503.1 142.9,502.5 143.4,502.0 143.9,501.6 144.4,501.2 144.9,500.8 145.4,500.5 145.9,500.3 146.4,500.2 146.9,500.1" fill="none" stroke="#1d93d2" stroke-width="2.3" stroke-linecap="round" stroke-linejoin="round"/>
<polyline points="163.4,514.1 163.9,514.0 164.4,513.8 164.9,513.6 165.4,513.3 165.9,512.9 166.4,512.5 166.9,512.0 167.4,511.5 167.9,511.0 168.4,510.4 168.9,509.7 169.4,509.1 169.9,508.4 170.4,507.7 170.9,507.0 171.4,506.3 171.9,505.6 172.4,504.9 172.9,504.3 173.4,503.7 173.9,503.1 174.4,502.5 174.9,502.0 175.4,501.6 175.9,501.2 176.4,500.8 176.9,500.5 177.4,500.3 177.9,500.2 178.4,500.1" fill="none" stroke="#1f77b4" stroke-width="2.3" stroke-linecap="round" stroke-linejoin="round"/>
<polyline points="194.9,514.1 195.4,514.0 195.9,513.8 196.4,513.6 196.9,513.3 197.4,512.9 197.9,512.5 198.4,512.0 198.9,511.5 199.4,511.0 199.9,510.4 200.4,509.7 200.9,509.1 201.4,508.4 201.9,507.7 202.4,507.0 202.9,506.3 203.4,505.6 203.9,504.9 204.4,504.3 204.9,503.7 205.4,503.1 205.9,502.5 206.4,502.0 206.9,501.6 207.4,501.2 207.9,500.8 208.4,500.5 208.9,500.3 209.4,500.2 209.9,500.1" fill="none" stroke="#1f77b4" stroke-width="2.3" stroke-linecap="round" stroke-linejoin="round"/>
<polyline points="225.9,513.2 226.4,513.1 226.9,513.0 227.4,512.8 227.9,512.5 228.4,512.2 228.9,511.8 229.4,511.4 229.9,510.9 230.4,510.4 230.9,509.9 231.4,509.4 231.9,508.8 232.4,508.3 232.9,507.7 233.4,507.2 233.9,506.7 234.4,506.1 234.9,505.7 235.4,505.2 235.9,504.8 236.4,504.4 236.9,504.1 237.4,503.8 237.9,503.6 238.4,503.5 238.9,503.3 239.4,503.3 239.9,503.3" fill="none" stroke="#1f77b4" stroke-width="1.7" stroke-linecap="round" stroke-linejoin="round"/>
<polyline points="253.9,511.1 254.4,511.0 254.9,510.9 255.4,510.7 255.9,510.5 256.4,510.3 256.9,510.1 257.4,509.8 257.9,509.5 258.4,509.2 258.9,508.9 259.4,508.6 259.9,508.3 260.4,508.1 260.9,507.8 261.4,507.5 261.9,507.3 262.4,507.1" fill="none" stroke="#1f77b4" stroke-width="1.1" stroke-linecap="round" stroke-linejoin="round"/>
<polyline points="262.4,507.1 262.9,507.0 263.4,506.8 263.9,506.7 264.4,506.6 264.9,506.6 265.4,506.6 265.9,506.6" fill="none" stroke="#1f77b4" stroke-width="0.6" stroke-linecap="round" stroke-linejoin="round"/>
<polyline points="278.4,509.2 278.9,509.1 279.4,509.1 279.9,509.0 280.4,508.9 280.9,508.9 281.4,508.9 281.9,508.9 282.4,508.9 282.9,508.8" fill="none" stroke="#1f77b4" stroke-width="0.6" stroke-linecap="round" stroke-linejoin="round"/>
<text x="327.9" y="287.9" font-size="13.5" font-weight="bold" fill="#000" stroke="#000" stroke-width="0.3">d</text>
<text x="425.0" y="287.0" font-size="9.3" fill="#161616" stroke="#161616" stroke-width="0.16" textLength="114.0" lengthAdjust="spacingAndGlyphs" >Physiological improvement</text>
<path d="M394,304.6 H402.8" stroke="#35a9dc" stroke-width="1.2"/>
<path d="M464,304.6 H472.9" stroke="#c893cc" stroke-width="1.2"/>
<path d="M524.4,304.6 H533.4" stroke="#e87468" stroke-width="1.2"/>
<text x="406.8" y="307.4" font-size="9.3" fill="#161616" stroke="#161616" stroke-width="0.16" textLength="44.2" lengthAdjust="spacingAndGlyphs" >Young ISO</text>
<text x="477.4" y="307.4" font-size="9.3" fill="#161616" stroke="#161616" stroke-width="0.16" textLength="33.6" lengthAdjust="spacingAndGlyphs" >Old HET</text>
<text x="537.6" y="307.4" font-size="9.3" fill="#161616" stroke="#161616" stroke-width="0.16" textLength="32.2" lengthAdjust="spacingAndGlyphs" >Old ISO</text>
<path d="M387.6,317.3 V403.2" stroke="#555" stroke-width="0.55" stroke-dasharray="0.7,0.5"/>
<rect x="362.4" y="391.4" width="0.9" height="0.9" fill="#35a9dc" fill-opacity="0.4"/>
<rect x="362.2" y="393.4" width="0.9" height="0.9" fill="#35a9dc" fill-opacity="0.4"/>
<rect x="362.6" y="384.9" width="0.9" height="0.9" fill="#35a9dc" fill-opacity="0.4"/>
<rect x="362.6" y="387.8" width="0.9" height="0.9" fill="#35a9dc" fill-opacity="0.4"/>
<rect x="362.2" y="384.1" width="0.9" height="0.9" fill="#35a9dc" fill-opacity="0.4"/>
<rect x="362.2" y="387.2" width="0.9" height="0.9" fill="#35a9dc" fill-opacity="0.4"/>
<rect x="362.5" y="387.7" width="0.9" height="0.9" fill="#35a9dc" fill-opacity="0.4"/>
<rect x="362.3" y="383.5" width="0.9" height="0.9" fill="#35a9dc" fill-opacity="0.4"/>
<rect x="362.7" y="393.8" width="0.9" height="0.9" fill="#35a9dc" fill-opacity="0.4"/>
<rect x="395.3" y="367.6" width="0.9" height="0.9" fill="#35a9dc" fill-opacity="0.4"/>
<rect x="395.7" y="381.2" width="0.9" height="0.9" fill="#35a9dc" fill-opacity="0.4"/>
<rect x="395.2" y="373.4" width="0.9" height="0.9" fill="#35a9dc" fill-opacity="0.4"/>
<rect x="395.1" y="373.8" width="0.9" height="0.9" fill="#35a9dc" fill-opacity="0.4"/>
<rect x="395.6" y="373.5" width="0.9" height="0.9" fill="#35a9dc" fill-opacity="0.4"/>
<rect x="395.1" y="362.7" width="0.9" height="0.9" fill="#35a9dc" fill-opacity="0.4"/>
<rect x="395.2" y="365.9" width="0.9" height="0.9" fill="#35a9dc" fill-opacity="0.4"/>
<rect x="395.4" y="372.0" width="0.9" height="0.9" fill="#35a9dc" fill-opacity="0.4"/>
<rect x="395.1" y="370.8" width="0.9" height="0.9" fill="#35a9dc" fill-opacity="0.4"/>
<rect x="403.7" y="349.0" width="0.9" height="0.9" fill="#35a9dc" fill-opacity="0.4"/>
<rect x="403.6" y="361.8" width="0.9" height="0.9" fill="#35a9dc" fill-opacity="0.4"/>
<rect x="403.5" y="351.5" width="0.9" height="0.9" fill="#35a9dc" fill-opacity="0.4"/>
<rect x="403.7" y="376.2" width="0.9" height="0.9" fill="#35a9dc" fill-opacity="0.4"/>
<rect x="403.3" y="345.5" width="0.9" height="0.9" fill="#35a9dc" fill-opacity="0.4"/>
<rect x="403.9" y="351.5" width="0.9" height="0.9" fill="#35a9dc" fill-opacity="0.4"/>
<rect x="403.7" y="350.3" width="0.9" height="0.9" fill="#35a9dc" fill-opacity="0.4"/>
<rect x="403.2" y="387.5" width="0.9" height="0.9" fill="#35a9dc" fill-opacity="0.4"/>
<rect x="403.5" y="357.8" width="0.9" height="0.9" fill="#35a9dc" fill-opacity="0.4"/>
<rect x="411.7" y="348.9" width="0.9" height="0.9" fill="#35a9dc" fill-opacity="0.4"/>
<rect x="411.4" y="345.9" width="0.9" height="0.9" fill="#35a9dc" fill-opacity="0.4"/>
<rect x="411.8" y="338.6" width="0.9" height="0.9" fill="#35a9dc" fill-opacity="0.4"/>
<rect x="412.1" y="348.6" width="0.9" height="0.9" fill="#35a9dc" fill-opacity="0.4"/>
<rect x="411.8" y="371.6" width="0.9" height="0.9" fill="#35a9dc" fill-opacity="0.4"/>
<rect x="411.8" y="334.4" width="0.9" height="0.9" fill="#35a9dc" fill-opacity="0.4"/>
<rect x="412.1" y="361.4" width="0.9" height="0.9" fill="#35a9dc" fill-opacity="0.4"/>
<rect x="411.7" y="353.4" width="0.9" height="0.9" fill="#35a9dc" fill-opacity="0.4"/>
<rect x="411.9" y="352.0" width="0.9" height="0.9" fill="#35a9dc" fill-opacity="0.4"/>
<rect x="420.1" y="372.5" width="0.9" height="0.9" fill="#35a9dc" fill-opacity="0.4"/>
<rect x="419.8" y="350.4" width="0.9" height="0.9" fill="#35a9dc" fill-opacity="0.4"/>
<rect x="419.9" y="350.2" width="0.9" height="0.9" fill="#35a9dc" fill-opacity="0.4"/>
<rect x="419.9" y="349.2" width="0.9" height="0.9" fill="#35a9dc" fill-opacity="0.4"/>
<rect x="419.7" y="354.3" width="0.9" height="0.9" fill="#35a9dc" fill-opacity="0.4"/>
<rect x="420.2" y="354.0" width="0.9" height="0.9" fill="#35a9dc" fill-opacity="0.4"/>
<rect x="419.7" y="351.5" width="0.9" height="0.9" fill="#35a9dc" fill-opacity="0.4"/>
<rect x="420.2" y="362.7" width="0.9" height="0.9" fill="#35a9dc" fill-opacity="0.4"/>
<rect x="419.6" y="337.7" width="0.9" height="0.9" fill="#35a9dc" fill-opacity="0.4"/>
<rect x="428.5" y="352.7" width="0.9" height="0.9" fill="#35a9dc" fill-opacity="0.4"/>
<rect x="428.4" y="354.1" width="0.9" height="0.9" fill="#35a9dc" fill-opacity="0.4"/>
<rect x="428.1" y="342.0" width="0.9" height="0.9" fill="#35a9dc" fill-opacity="0.4"/>
<rect x="428.0" y="368.4" width="0.9" height="0.9" fill="#35a9dc" fill-opacity="0.4"/>
<rect x="427.9" y="330.6" width="0.9" height="0.9" fill="#35a9dc" fill-opacity="0.4"/>
<rect x="427.9" y="349.3" width="0.9" height="0.9" fill="#35a9dc" fill-opacity="0.4"/>
<rect x="428.1" y="356.2" width="0.9" height="0.9" fill="#35a9dc" fill-opacity="0.4"/>
<rect x="428.2" y="348.4" width="0.9" height="0.9" fill="#35a9dc" fill-opacity="0.4"/>
<rect x="428.1" y="349.4" width="0.9" height="0.9" fill="#35a9dc" fill-opacity="0.4"/>
<rect x="436.2" y="321.7" width="0.9" height="0.9" fill="#35a9dc" fill-opacity="0.4"/>
<rect x="436.5" y="334.9" width="0.9" height="0.9" fill="#35a9dc" fill-opacity="0.4"/>
<rect x="436.4" y="333.7" width="0.9" height="0.9" fill="#35a9dc" fill-opacity="0.4"/>
<rect x="436.0" y="334.8" width="0.9" height="0.9" fill="#35a9dc" fill-opacity="0.4"/>
<rect x="436.7" y="349.3" width="0.9" height="0.9" fill="#35a9dc" fill-opacity="0.4"/>
<rect x="436.6" y="324.4" width="0.9" height="0.9" fill="#35a9dc" fill-opacity="0.4"/>
<rect x="436.3" y="341.4" width="0.9" height="0.9" fill="#35a9dc" fill-opacity="0.4"/>
<rect x="436.5" y="348.2" width="0.9" height="0.9" fill="#35a9dc" fill-opacity="0.4"/>
<rect x="436.0" y="351.9" width="0.9" height="0.9" fill="#35a9dc" fill-opacity="0.4"/>
<rect x="444.3" y="345.2" width="0.9" height="0.9" fill="#35a9dc" fill-opacity="0.4"/>
<rect x="444.4" y="342.5" width="0.9" height="0.9" fill="#35a9dc" fill-opacity="0.4"/>
<rect x="444.3" y="342.3" width="0.9" height="0.9" fill="#35a9dc" fill-opacity="0.4"/>
<rect x="444.2" y="340.7" width="0.9" height="0.9" fill="#35a9dc" fill-opacity="0.4"/>
<rect x="444.8" y="344.1" width="0.9" height="0.9" fill="#35a9dc" fill-opacity="0.4"/>
<rect x="444.6" y="347.1" width="0.9" height="0.9" fill="#35a9dc" fill-opacity="0.4"/>
<rect x="444.4" y="348.8" width="0.9" height="0.9" fill="#35a9dc" fill-opacity="0.4"/>
<rect x="444.4" y="357.1" width="0.9" height="0.9" fill="#35a9dc" fill-opacity="0.4"/>
<rect x="444.9" y="356.7" width="0.9" height="0.9" fill="#35a9dc" fill-opacity="0.4"/>
<rect x="362.5" y="335.0" width="0.9" height="0.9" fill="#c893cc" fill-opacity="0.4"/>
<rect x="362.2" y="337.7" width="0.9" height="0.9" fill="#c893cc" fill-opacity="0.4"/>
<rect x="362.4" y="336.5" width="0.9" height="0.9" fill="#c893cc" fill-opacity="0.4"/>
<rect x="362.3" y="348.1" width="0.9" height="0.9" fill="#c893cc" fill-opacity="0.4"/>
<rect x="362.2" y="344.1" width="0.9" height="0.9" fill="#c893cc" fill-opacity="0.4"/>
<rect x="362.3" y="335.3" width="0.9" height="0.9" fill="#c893cc" fill-opacity="0.4"/>
<rect x="362.6" y="344.3" width="0.9" height="0.9" fill="#c893cc" fill-opacity="0.4"/>
<rect x="362.9" y="338.6" width="0.9" height="0.9" fill="#c893cc" fill-opacity="0.4"/>
<rect x="362.8" y="336.0" width="0.9" height="0.9" fill="#c893cc" fill-opacity="0.4"/>
<rect x="395.2" y="339.0" width="0.9" height="0.9" fill="#c893cc" fill-opacity="0.4"/>
<rect x="395.1" y="343.9" width="0.9" height="0.9" fill="#c893cc" fill-opacity="0.4"/>
<rect x="395.6" y="336.5" width="0.9" height="0.9" fill="#c893cc" fill-opacity="0.4"/>
<rect x="395.2" y="344.6" width="0.9" height="0.9" fill="#c893cc" fill-opacity="0.4"/>
<rect x="395.7" y="352.5" width="0.9" height="0.9" fill="#c893cc" fill-opacity="0.4"/>
<rect x="395.6" y="346.3" width="0.9" height="0.9" fill="#c893cc" fill-opacity="0.4"/>
<rect x="395.5" y="333.7" width="0.9" height="0.9" fill="#c893cc" fill-opacity="0.4"/>
<rect x="395.1" y="338.0" width="0.9" height="0.9" fill="#c893cc" fill-opacity="0.4"/>
<rect x="395.0" y="342.4" width="0.9" height="0.9" fill="#c893cc" fill-opacity="0.4"/>
<rect x="403.2" y="344.6" width="0.9" height="0.9" fill="#c893cc" fill-opacity="0.4"/>
<rect x="403.7" y="349.4" width="0.9" height="0.9" fill="#c893cc" fill-opacity="0.4"/>
<rect x="403.9" y="333.5" width="0.9" height="0.9" fill="#c893cc" fill-opacity="0.4"/>
<rect x="403.9" y="349.4" width="0.9" height="0.9" fill="#c893cc" fill-opacity="0.4"/>
<rect x="403.9" y="342.9" width="0.9" height="0.9" fill="#c893cc" fill-opacity="0.4"/>
<rect x="403.3" y="348.2" width="0.9" height="0.9" fill="#c893cc" fill-opacity="0.4"/>
<rect x="403.3" y="347.5" width="0.9" height="0.9" fill="#c893cc" fill-opacity="0.4"/>
<rect x="403.9" y="352.5" width="0.9" height="0.9" fill="#c893cc" fill-opacity="0.4"/>
<rect x="403.8" y="337.7" width="0.9" height="0.9" fill="#c893cc" fill-opacity="0.4"/>
<rect x="412.0" y="348.1" width="0.9" height="0.9" fill="#c893cc" fill-opacity="0.4"/>
<rect x="411.4" y="340.9" width="0.9" height="0.9" fill="#c893cc" fill-opacity="0.4"/>
<rect x="412.0" y="337.3" width="0.9" height="0.9" fill="#c893cc" fill-opacity="0.4"/>
<rect x="412.0" y="343.8" width="0.9" height="0.9" fill="#c893cc" fill-opacity="0.4"/>
<rect x="412.0" y="347.6" width="0.9" height="0.9" fill="#c893cc" fill-opacity="0.4"/>
<rect x="411.6" y="351.6" width="0.9" height="0.9" fill="#c893cc" fill-opacity="0.4"/>
<rect x="411.7" y="333.7" width="0.9" height="0.9" fill="#c893cc" fill-opacity="0.4"/>
<rect x="411.7" y="355.2" width="0.9" height="0.9" fill="#c893cc" fill-opacity="0.4"/>
<rect x="411.5" y="344.3" width="0.9" height="0.9" fill="#c893cc" fill-opacity="0.4"/>
<rect x="419.7" y="357.6" width="0.9" height="0.9" fill="#c893cc" fill-opacity="0.4"/>
<rect x="420.2" y="360.2" width="0.9" height="0.9" fill="#c893cc" fill-opacity="0.4"/>
<rect x="419.7" y="357.7" width="0.9" height="0.9" fill="#c893cc" fill-opacity="0.4"/>
<rect x="420.1" y="337.6" width="0.9" height="0.9" fill="#c893cc" fill-opacity="0.4"/>
<rect x="419.8" y="348.2" width="0.9" height="0.9" fill="#c893cc" fill-opacity="0.4"/>
<rect x="419.6" y="350.0" width="0.9" height="0.9" fill="#c893cc" fill-opacity="0.4"/>
<rect x="420.3" y="347.0" width="0.9" height="0.9" fill="#c893cc" fill-opacity="0.4"/>
<rect x="420.3" y="345.6" width="0.9" height="0.9" fill="#c893cc" fill-opacity="0.4"/>
<rect x="419.9" y="357.7" width="0.9" height="0.9" fill="#c893cc" fill-opacity="0.4"/>
<rect x="427.9" y="345.5" width="0.9" height="0.9" fill="#c893cc" fill-opacity="0.4"/>
<rect x="428.0" y="351.6" width="0.9" height="0.9" fill="#c893cc" fill-opacity="0.4"/>
<rect x="428.2" y="356.5" width="0.9" height="0.9" fill="#c893cc" fill-opacity="0.4"/>
<rect x="428.0" y="350.2" width="0.9" height="0.9" fill="#c893cc" fill-opacity="0.4"/>
<rect x="428.5" y="354.0" width="0.9" height="0.9" fill="#c893cc" fill-opacity="0.4"/>
<rect x="428.0" y="345.9" width="0.9" height="0.9" fill="#c893cc" fill-opacity="0.4"/>
<rect x="428.5" y="354.5" width="0.9" height="0.9" fill="#c893cc" fill-opacity="0.4"/>
<rect x="428.1" y="358.1" width="0.9" height="0.9" fill="#c893cc" fill-opacity="0.4"/>
<rect x="428.2" y="349.5" width="0.9" height="0.9" fill="#c893cc" fill-opacity="0.4"/>
<rect x="436.4" y="360.6" width="0.9" height="0.9" fill="#c893cc" fill-opacity="0.4"/>
<rect x="436.1" y="355.3" width="0.9" height="0.9" fill="#c893cc" fill-opacity="0.4"/>
<rect x="436.0" y="355.6" width="0.9" height="0.9" fill="#c893cc" fill-opacity="0.4"/>
<rect x="436.3" y="351.2" width="0.9" height="0.9" fill="#c893cc" fill-opacity="0.4"/>
<rect x="436.5" y="349.8" width="0.9" height="0.9" fill="#c893cc" fill-opacity="0.4"/>
<rect x="436.4" y="352.8" width="0.9" height="0.9" fill="#c893cc" fill-opacity="0.4"/>
<rect x="436.4" y="355.1" width="0.9" height="0.9" fill="#c893cc" fill-opacity="0.4"/>
<rect x="436.4" y="351.9" width="0.9" height="0.9" fill="#c893cc" fill-opacity="0.4"/>
<rect x="436.1" y="352.9" width="0.9" height="0.9" fill="#c893cc" fill-opacity="0.4"/>
<rect x="444.6" y="368.5" width="0.9" height="0.9" fill="#c893cc" fill-opacity="0.4"/>
<rect x="444.6" y="359.0" width="0.9" height="0.9" fill="#c893cc" fill-opacity="0.4"/>
<rect x="444.5" y="344.8" width="0.9" height="0.9" fill="#c893cc" fill-opacity="0.4"/>
<rect x="444.6" y="350.9" width="0.9" height="0.9" fill="#c893cc" fill-opacity="0.4"/>
<rect x="444.7" y="357.9" width="0.9" height="0.9" fill="#c893cc" fill-opacity="0.4"/>
<rect x="444.5" y="351.4" width="0.9" height="0.9" fill="#c893cc" fill-opacity="0.4"/>
<rect x="444.9" y="356.7" width="0.9" height="0.9" fill="#c893cc" fill-opacity="0.4"/>
<rect x="444.7" y="368.5" width="0.9" height="0.9" fill="#c893cc" fill-opacity="0.4"/>
<rect x="444.4" y="348.0" width="0.9" height="0.9" fill="#c893cc" fill-opacity="0.4"/>
<rect x="362.6" y="349.7" width="0.9" height="0.9" fill="#e87468" fill-opacity="0.4"/>
<rect x="362.3" y="332.9" width="0.9" height="0.9" fill="#e87468" fill-opacity="0.4"/>
<rect x="362.2" y="335.0" width="0.9" height="0.9" fill="#e87468" fill-opacity="0.4"/>
<rect x="362.3" y="338.4" width="0.9" height="0.9" fill="#e87468" fill-opacity="0.4"/>
<rect x="362.2" y="331.6" width="0.9" height="0.9" fill="#e87468" fill-opacity="0.4"/>
<rect x="362.9" y="327.0" width="0.9" height="0.9" fill="#e87468" fill-opacity="0.4"/>
<rect x="362.3" y="335.3" width="0.9" height="0.9" fill="#e87468" fill-opacity="0.4"/>
<rect x="362.3" y="327.6" width="0.9" height="0.9" fill="#e87468" fill-opacity="0.4"/>
<rect x="362.9" y="342.2" width="0.9" height="0.9" fill="#e87468" fill-opacity="0.4"/>
<rect x="395.7" y="335.9" width="0.9" height="0.9" fill="#e87468" fill-opacity="0.4"/>
<rect x="395.3" y="319.5" width="0.9" height="0.9" fill="#e87468" fill-opacity="0.4"/>
<rect x="395.6" y="338.1" width="0.9" height="0.9" fill="#e87468" fill-opacity="0.4"/>
<rect x="395.1" y="330.5" width="0.9" height="0.9" fill="#e87468" fill-opacity="0.4"/>
<rect x="395.2" y="339.6" width="0.9" height="0.9" fill="#e87468" fill-opacity="0.4"/>
<rect x="395.1" y="332.9" width="0.9" height="0.9" fill="#e87468" fill-opacity="0.4"/>
<rect x="395.0" y="345.0" width="0.9" height="0.9" fill="#e87468" fill-opacity="0.4"/>
<rect x="395.4" y="335.7" width="0.9" height="0.9" fill="#e87468" fill-opacity="0.4"/>
<rect x="395.2" y="337.1" width="0.9" height="0.9" fill="#e87468" fill-opacity="0.4"/>
<rect x="403.6" y="340.2" width="0.9" height="0.9" fill="#e87468" fill-opacity="0.4"/>
<rect x="403.9" y="342.1" width="0.9" height="0.9" fill="#e87468" fill-opacity="0.4"/>
<rect x="403.8" y="344.8" width="0.9" height="0.9" fill="#e87468" fill-opacity="0.4"/>
<rect x="403.4" y="341.8" width="0.9" height="0.9" fill="#e87468" fill-opacity="0.4"/>
<rect x="403.2" y="343.0" width="0.9" height="0.9" fill="#e87468" fill-opacity="0.4"/>
<rect x="403.3" y="337.9" width="0.9" height="0.9" fill="#e87468" fill-opacity="0.4"/>
<rect x="403.5" y="350.9" width="0.9" height="0.9" fill="#e87468" fill-opacity="0.4"/>
<rect x="403.4" y="336.9" width="0.9" height="0.9" fill="#e87468" fill-opacity="0.4"/>
<rect x="403.3" y="348.5" width="0.9" height="0.9" fill="#e87468" fill-opacity="0.4"/>
<rect x="411.9" y="342.6" width="0.9" height="0.9" fill="#e87468" fill-opacity="0.4"/>
<rect x="411.4" y="354.4" width="0.9" height="0.9" fill="#e87468" fill-opacity="0.4"/>
<rect x="411.7" y="349.3" width="0.9" height="0.9" fill="#e87468" fill-opacity="0.4"/>
<rect x="411.4" y="353.7" width="0.9" height="0.9" fill="#e87468" fill-opacity="0.4"/>
<rect x="412.0" y="343.2" width="0.9" height="0.9" fill="#e87468" fill-opacity="0.4"/>
<rect x="411.4" y="347.6" width="0.9" height="0.9" fill="#e87468" fill-opacity="0.4"/>
<rect x="412.0" y="344.6" width="0.9" height="0.9" fill="#e87468" fill-opacity="0.4"/>
<rect x="411.7" y="342.4" width="0.9" height="0.9" fill="#e87468" fill-opacity="0.4"/>
<rect x="412.1" y="352.4" width="0.9" height="0.9" fill="#e87468" fill-opacity="0.4"/>
<rect x="419.8" y="356.9" width="0.9" height="0.9" fill="#e87468" fill-opacity="0.4"/>
<rect x="419.7" y="357.2" width="0.9" height="0.9" fill="#e87468" fill-opacity="0.4"/>
<rect x="419.6" y="353.1" width="0.9" height="0.9" fill="#e87468" fill-opacity="0.4"/>
<rect x="419.7" y="353.7" width="0.9" height="0.9" fill="#e87468" fill-opacity="0.4"/>
<rect x="419.8" y="348.9" width="0.9" height="0.9" fill="#e87468" fill-opacity="0.4"/>
<rect x="419.8" y="361.2" width="0.9" height="0.9" fill="#e87468" fill-opacity="0.4"/>
<rect x="420.0" y="354.5" width="0.9" height="0.9" fill="#e87468" fill-opacity="0.4"/>
<rect x="419.6" y="356.9" width="0.9" height="0.9" fill="#e87468" fill-opacity="0.4"/>
<rect x="419.8" y="361.4" width="0.9" height="0.9" fill="#e87468" fill-opacity="0.4"/>
<rect x="428.2" y="356.4" width="0.9" height="0.9" fill="#e87468" fill-opacity="0.4"/>
<rect x="427.9" y="341.0" width="0.9" height="0.9" fill="#e87468" fill-opacity="0.4"/>
<rect x="427.8" y="357.8" width="0.9" height="0.9" fill="#e87468" fill-opacity="0.4"/>
<rect x="428.4" y="348.8" width="0.9" height="0.9" fill="#e87468" fill-opacity="0.4"/>
<rect x="428.4" y="358.5" width="0.9" height="0.9" fill="#e87468" fill-opacity="0.4"/>
<rect x="428.1" y="345.9" width="0.9" height="0.9" fill="#e87468" fill-opacity="0.4"/>
<rect x="428.5" y="355.0" width="0.9" height="0.9" fill="#e87468" fill-opacity="0.4"/>
<rect x="428.0" y="360.3" width="0.9" height="0.9" fill="#e87468" fill-opacity="0.4"/>
<rect x="428.3" y="346.9" width="0.9" height="0.9" fill="#e87468" fill-opacity="0.4"/>
<rect x="436.3" y="358.5" width="0.9" height="0.9" fill="#e87468" fill-opacity="0.4"/>
<rect x="436.1" y="362.2" width="0.9" height="0.9" fill="#e87468" fill-opacity="0.4"/>
<rect x="436.0" y="359.7" width="0.9" height="0.9" fill="#e87468" fill-opacity="0.4"/>
<rect x="436.1" y="353.9" width="0.9" height="0.9" fill="#e87468" fill-opacity="0.4"/>
<rect x="436.0" y="368.8" width="0.9" height="0.9" fill="#e87468" fill-opacity="0.4"/>
<rect x="436.5" y="346.5" width="0.9" height="0.9" fill="#e87468" fill-opacity="0.4"/>
<rect x="436.2" y="360.4" width="0.9" height="0.9" fill="#e87468" fill-opacity="0.4"/>
<rect x="436.3" y="366.7" width="0.9" height="0.9" fill="#e87468" fill-opacity="0.4"/>
<rect x="436.1" y="354.2" width="0.9" height="0.9" fill="#e87468" fill-opacity="0.4"/>
<rect x="444.9" y="370.2" width="0.9" height="0.9" fill="#e87468" fill-opacity="0.4"/>
<rect x="444.9" y="359.5" width="0.9" height="0.9" fill="#e87468" fill-opacity="0.4"/>
<rect x="444.9" y="364.9" width="0.9" height="0.9" fill="#e87468" fill-opacity="0.4"/>
<rect x="444.4" y="367.0" width="0.9" height="0.9" fill="#e87468" fill-opacity="0.4"/>
<rect x="444.5" y="367.7" width="0.9" height="0.9" fill="#e87468" fill-opacity="0.4"/>
<rect x="444.5" y="360.0" width="0.9" height="0.9" fill="#e87468" fill-opacity="0.4"/>
<rect x="444.6" y="367.2" width="0.9" height="0.9" fill="#e87468" fill-opacity="0.4"/>
<rect x="444.2" y="366.9" width="0.9" height="0.9" fill="#e87468" fill-opacity="0.4"/>
<rect x="444.5" y="372.1" width="0.9" height="0.9" fill="#e87468" fill-opacity="0.4"/>
<polygon points="363.0,383.5 387.6,371.6 395.8,367.4 404.0,352.2 412.2,349.9 420.4,345.8 428.6,343.3 436.8,340.3 445.0,337.1 445.0,348.3 436.8,351.3 428.6,354.5 420.4,357.8 412.2,361.9 404.0,363.8 395.8,373.6 387.6,377.6 363.0,389.9" fill="#35a9dc" fill-opacity="0.27"/>
<polygon points="363.0,334.9 387.6,338.8 395.8,340.6 404.0,343.0 412.2,344.8 420.4,348.5 428.6,350.3 436.8,352.0 445.0,355.4 445.0,361.8 436.8,358.0 428.6,355.9 420.4,354.1 412.2,350.4 404.0,348.6 395.8,346.2 387.6,344.4 363.0,340.9" fill="#c893cc" fill-opacity="0.27"/>
<polygon points="363.0,334.3 387.6,334.2 395.8,334.2 404.0,339.8 412.2,343.7 420.4,349.6 428.6,352.6 436.8,356.3 445.0,362.0 445.0,373.6 436.8,364.7 428.6,359.2 420.4,355.6 412.2,349.7 404.0,345.6 395.8,340.2 387.6,340.8 363.0,341.5" fill="#e87468" fill-opacity="0.27"/>
<polyline points="363.0,386.7 387.6,374.6 395.8,370.5 404.0,358.0 412.2,355.9 420.4,351.8 428.6,348.9 436.8,345.8 445.0,342.7" fill="none" stroke="#35a9dc" stroke-width="0.85" stroke-linejoin="round"/>
<polyline points="363.0,337.9 387.6,341.6 395.8,343.4 404.0,345.8 412.2,347.6 420.4,351.3 428.6,353.1 436.8,355.0 445.0,358.6" fill="none" stroke="#c893cc" stroke-width="0.85" stroke-linejoin="round"/>
<polyline points="363.0,337.9 387.6,337.5 395.8,337.2 404.0,342.7 412.2,346.7 420.4,352.6 428.6,355.9 436.8,360.5 445.0,367.8" fill="none" stroke="#e87468" stroke-width="0.85" stroke-linejoin="round"/>
<path d="M359,317.3 V403.2 H449.6" stroke="#333" stroke-width="0.85" fill="none"/>
<path d="M355.8,317.3 H359" stroke="#333" stroke-width="0.85"/>
<text x="343.0" y="320.5" font-size="9.0" fill="#161616" stroke="#161616" stroke-width="0.08" textLength="8.8" lengthAdjust="spacingAndGlyphs">45</text>
<path d="M355.8,334.2 H359" stroke="#333" stroke-width="0.85"/>
<text x="343.0" y="337.4" font-size="9.0" fill="#161616" stroke="#161616" stroke-width="0.08" textLength="8.8" lengthAdjust="spacingAndGlyphs">40</text>
<path d="M355.8,351.5 H359" stroke="#333" stroke-width="0.85"/>
<text x="343.0" y="354.7" font-size="9.0" fill="#161616" stroke="#161616" stroke-width="0.08" textLength="8.8" lengthAdjust="spacingAndGlyphs">35</text>
<path d="M355.8,368.9 H359" stroke="#333" stroke-width="0.85"/>
<text x="343.0" y="372.1" font-size="9.0" fill="#161616" stroke="#161616" stroke-width="0.08" textLength="8.8" lengthAdjust="spacingAndGlyphs">30</text>
<path d="M355.8,386.3 H359" stroke="#333" stroke-width="0.85"/>
<text x="343.0" y="389.5" font-size="9.0" fill="#161616" stroke="#161616" stroke-width="0.08" textLength="8.8" lengthAdjust="spacingAndGlyphs">25</text>
<path d="M355.8,403.2 H359" stroke="#333" stroke-width="0.85"/>
<text x="343.0" y="406.4" font-size="9.0" fill="#161616" stroke="#161616" stroke-width="0.08" textLength="8.8" lengthAdjust="spacingAndGlyphs">20</text>
<path d="M363.0,403.2 V406.2" stroke="#333" stroke-width="0.85"/>
<path d="M387.6,403.2 V406.2" stroke="#333" stroke-width="0.85"/>
<path d="M395.8,403.2 V406.2" stroke="#333" stroke-width="0.85"/>
<path d="M404.0,403.2 V406.2" stroke="#333" stroke-width="0.85"/>
<path d="M412.2,403.2 V406.2" stroke="#333" stroke-width="0.85"/>
<path d="M420.4,403.2 V406.2" stroke="#333" stroke-width="0.85"/>
<path d="M428.6,403.2 V406.2" stroke="#333" stroke-width="0.85"/>
<path d="M436.8,403.2 V406.2" stroke="#333" stroke-width="0.85"/>
<path d="M445.0,403.2 V406.2" stroke="#333" stroke-width="0.85"/>
<path d="M447.2,358 V367.3" stroke="#111" stroke-width="1.3"/>
<text x="449.4" y="366.0" font-size="9.3" fill="#161616" stroke="#161616" stroke-width="0.16" textLength="11.2" lengthAdjust="spacingAndGlyphs" >NS</text>
<path d="M544.1,317.3 V403.4" stroke="#555" stroke-width="0.55" stroke-dasharray="0.7,0.5"/>
<rect x="518.7" y="385.9" width="0.9" height="0.9" fill="#35a9dc" fill-opacity="0.4"/>
<rect x="518.8" y="379.0" width="0.9" height="0.9" fill="#35a9dc" fill-opacity="0.4"/>
<rect x="519.1" y="362.3" width="0.9" height="0.9" fill="#35a9dc" fill-opacity="0.4"/>
<rect x="519.2" y="375.0" width="0.9" height="0.9" fill="#35a9dc" fill-opacity="0.4"/>
<rect x="519.2" y="384.7" width="0.9" height="0.9" fill="#35a9dc" fill-opacity="0.4"/>
<rect x="518.9" y="371.3" width="0.9" height="0.9" fill="#35a9dc" fill-opacity="0.4"/>
<rect x="519.4" y="386.9" width="0.9" height="0.9" fill="#35a9dc" fill-opacity="0.4"/>
<rect x="519.2" y="390.2" width="0.9" height="0.9" fill="#35a9dc" fill-opacity="0.4"/>
<rect x="518.7" y="388.1" width="0.9" height="0.9" fill="#35a9dc" fill-opacity="0.4"/>
<rect x="552.0" y="355.9" width="0.9" height="0.9" fill="#35a9dc" fill-opacity="0.4"/>
<rect x="552.0" y="372.8" width="0.9" height="0.9" fill="#35a9dc" fill-opacity="0.4"/>
<rect x="551.9" y="366.8" width="0.9" height="0.9" fill="#35a9dc" fill-opacity="0.4"/>
<rect x="551.9" y="378.7" width="0.9" height="0.9" fill="#35a9dc" fill-opacity="0.4"/>
<rect x="552.1" y="358.0" width="0.9" height="0.9" fill="#35a9dc" fill-opacity="0.4"/>
<rect x="551.9" y="381.0" width="0.9" height="0.9" fill="#35a9dc" fill-opacity="0.4"/>
<rect x="552.0" y="363.1" width="0.9" height="0.9" fill="#35a9dc" fill-opacity="0.4"/>
<rect x="551.6" y="375.4" width="0.9" height="0.9" fill="#35a9dc" fill-opacity="0.4"/>
<rect x="551.7" y="371.9" width="0.9" height="0.9" fill="#35a9dc" fill-opacity="0.4"/>
<rect x="559.7" y="373.3" width="0.9" height="0.9" fill="#35a9dc" fill-opacity="0.4"/>
<rect x="560.2" y="358.7" width="0.9" height="0.9" fill="#35a9dc" fill-opacity="0.4"/>
<rect x="560.2" y="363.8" width="0.9" height="0.9" fill="#35a9dc" fill-opacity="0.4"/>
<rect x="559.7" y="359.1" width="0.9" height="0.9" fill="#35a9dc" fill-opacity="0.4"/>
<rect x="560.3" y="367.7" width="0.9" height="0.9" fill="#35a9dc" fill-opacity="0.4"/>
<rect x="560.1" y="358.0" width="0.9" height="0.9" fill="#35a9dc" fill-opacity="0.4"/>
<rect x="560.2" y="380.3" width="0.9" height="0.9" fill="#35a9dc" fill-opacity="0.4"/>
<rect x="559.9" y="373.4" width="0.9" height="0.9" fill="#35a9dc" fill-opacity="0.4"/>
<rect x="559.7" y="366.5" width="0.9" height="0.9" fill="#35a9dc" fill-opacity="0.4"/>
<rect x="568.0" y="378.0" width="0.9" height="0.9" fill="#35a9dc" fill-opacity="0.4"/>
<rect x="568.4" y="374.2" width="0.9" height="0.9" fill="#35a9dc" fill-opacity="0.4"/>
<rect x="568.2" y="363.1" width="0.9" height="0.9" fill="#35a9dc" fill-opacity="0.4"/>
<rect x="568.2" y="358.8" width="0.9" height="0.9" fill="#35a9dc" fill-opacity="0.4"/>
<rect x="568.3" y="351.5" width="0.9" height="0.9" fill="#35a9dc" fill-opacity="0.4"/>
<rect x="568.4" y="368.7" width="0.9" height="0.9" fill="#35a9dc" fill-opacity="0.4"/>
<rect x="568.1" y="366.8" width="0.9" height="0.9" fill="#35a9dc" fill-opacity="0.4"/>
<rect x="568.4" y="360.9" width="0.9" height="0.9" fill="#35a9dc" fill-opacity="0.4"/>
<rect x="567.9" y="374.8" width="0.9" height="0.9" fill="#35a9dc" fill-opacity="0.4"/>
<rect x="576.1" y="359.5" width="0.9" height="0.9" fill="#35a9dc" fill-opacity="0.4"/>
<rect x="576.6" y="373.3" width="0.9" height="0.9" fill="#35a9dc" fill-opacity="0.4"/>
<rect x="576.6" y="358.4" width="0.9" height="0.9" fill="#35a9dc" fill-opacity="0.4"/>
<rect x="576.4" y="370.7" width="0.9" height="0.9" fill="#35a9dc" fill-opacity="0.4"/>
<rect x="576.4" y="374.0" width="0.9" height="0.9" fill="#35a9dc" fill-opacity="0.4"/>
<rect x="576.2" y="372.9" width="0.9" height="0.9" fill="#35a9dc" fill-opacity="0.4"/>
<rect x="576.8" y="362.4" width="0.9" height="0.9" fill="#35a9dc" fill-opacity="0.4"/>
<rect x="576.4" y="360.3" width="0.9" height="0.9" fill="#35a9dc" fill-opacity="0.4"/>
<rect x="576.7" y="369.9" width="0.9" height="0.9" fill="#35a9dc" fill-opacity="0.4"/>
<rect x="584.5" y="355.0" width="0.9" height="0.9" fill="#35a9dc" fill-opacity="0.4"/>
<rect x="584.4" y="362.3" width="0.9" height="0.9" fill="#35a9dc" fill-opacity="0.4"/>
<rect x="584.7" y="354.9" width="0.9" height="0.9" fill="#35a9dc" fill-opacity="0.4"/>
<rect x="584.4" y="336.4" width="0.9" height="0.9" fill="#35a9dc" fill-opacity="0.4"/>
<rect x="584.4" y="353.7" width="0.9" height="0.9" fill="#35a9dc" fill-opacity="0.4"/>
<rect x="584.9" y="339.4" width="0.9" height="0.9" fill="#35a9dc" fill-opacity="0.4"/>
<rect x="584.8" y="355.9" width="0.9" height="0.9" fill="#35a9dc" fill-opacity="0.4"/>
<rect x="584.4" y="364.6" width="0.9" height="0.9" fill="#35a9dc" fill-opacity="0.4"/>
<rect x="584.3" y="351.1" width="0.9" height="0.9" fill="#35a9dc" fill-opacity="0.4"/>
<rect x="592.5" y="344.1" width="0.9" height="0.9" fill="#35a9dc" fill-opacity="0.4"/>
<rect x="592.7" y="353.7" width="0.9" height="0.9" fill="#35a9dc" fill-opacity="0.4"/>
<rect x="592.6" y="349.2" width="0.9" height="0.9" fill="#35a9dc" fill-opacity="0.4"/>
<rect x="593.1" y="359.3" width="0.9" height="0.9" fill="#35a9dc" fill-opacity="0.4"/>
<rect x="592.5" y="353.3" width="0.9" height="0.9" fill="#35a9dc" fill-opacity="0.4"/>
<rect x="592.5" y="337.3" width="0.9" height="0.9" fill="#35a9dc" fill-opacity="0.4"/>
<rect x="593.2" y="349.1" width="0.9" height="0.9" fill="#35a9dc" fill-opacity="0.4"/>
<rect x="592.7" y="335.7" width="0.9" height="0.9" fill="#35a9dc" fill-opacity="0.4"/>
<rect x="592.7" y="329.3" width="0.9" height="0.9" fill="#35a9dc" fill-opacity="0.4"/>
<rect x="601.1" y="366.9" width="0.9" height="0.9" fill="#35a9dc" fill-opacity="0.4"/>
<rect x="600.9" y="341.7" width="0.9" height="0.9" fill="#35a9dc" fill-opacity="0.4"/>
<rect x="600.7" y="350.7" width="0.9" height="0.9" fill="#35a9dc" fill-opacity="0.4"/>
<rect x="600.7" y="351.2" width="0.9" height="0.9" fill="#35a9dc" fill-opacity="0.4"/>
<rect x="601.4" y="341.8" width="0.9" height="0.9" fill="#35a9dc" fill-opacity="0.4"/>
<rect x="600.8" y="346.8" width="0.9" height="0.9" fill="#35a9dc" fill-opacity="0.4"/>
<rect x="600.8" y="357.7" width="0.9" height="0.9" fill="#35a9dc" fill-opacity="0.4"/>
<rect x="600.9" y="364.5" width="0.9" height="0.9" fill="#35a9dc" fill-opacity="0.4"/>
<rect x="601.3" y="343.0" width="0.9" height="0.9" fill="#35a9dc" fill-opacity="0.4"/>
<rect x="519.2" y="358.4" width="0.9" height="0.9" fill="#c893cc" fill-opacity="0.4"/>
<rect x="519.1" y="333.6" width="0.9" height="0.9" fill="#c893cc" fill-opacity="0.4"/>
<rect x="519.2" y="354.7" width="0.9" height="0.9" fill="#c893cc" fill-opacity="0.4"/>
<rect x="519.0" y="346.7" width="0.9" height="0.9" fill="#c893cc" fill-opacity="0.4"/>
<rect x="519.3" y="339.1" width="0.9" height="0.9" fill="#c893cc" fill-opacity="0.4"/>
<rect x="518.7" y="338.0" width="0.9" height="0.9" fill="#c893cc" fill-opacity="0.4"/>
<rect x="519.4" y="348.9" width="0.9" height="0.9" fill="#c893cc" fill-opacity="0.4"/>
<rect x="518.9" y="349.1" width="0.9" height="0.9" fill="#c893cc" fill-opacity="0.4"/>
<rect x="518.9" y="341.5" width="0.9" height="0.9" fill="#c893cc" fill-opacity="0.4"/>
<rect x="551.7" y="326.1" width="0.9" height="0.9" fill="#c893cc" fill-opacity="0.4"/>
<rect x="552.0" y="343.0" width="0.9" height="0.9" fill="#c893cc" fill-opacity="0.4"/>
<rect x="551.8" y="354.6" width="0.9" height="0.9" fill="#c893cc" fill-opacity="0.4"/>
<rect x="551.6" y="348.4" width="0.9" height="0.9" fill="#c893cc" fill-opacity="0.4"/>
<rect x="552.2" y="350.0" width="0.9" height="0.9" fill="#c893cc" fill-opacity="0.4"/>
<rect x="551.8" y="348.8" width="0.9" height="0.9" fill="#c893cc" fill-opacity="0.4"/>
<rect x="552.2" y="361.3" width="0.9" height="0.9" fill="#c893cc" fill-opacity="0.4"/>
<rect x="551.8" y="348.9" width="0.9" height="0.9" fill="#c893cc" fill-opacity="0.4"/>
<rect x="551.5" y="349.5" width="0.9" height="0.9" fill="#c893cc" fill-opacity="0.4"/>
<rect x="559.9" y="351.6" width="0.9" height="0.9" fill="#c893cc" fill-opacity="0.4"/>
<rect x="559.9" y="350.0" width="0.9" height="0.9" fill="#c893cc" fill-opacity="0.4"/>
<rect x="560.1" y="356.3" width="0.9" height="0.9" fill="#c893cc" fill-opacity="0.4"/>
<rect x="560.0" y="339.3" width="0.9" height="0.9" fill="#c893cc" fill-opacity="0.4"/>
<rect x="560.0" y="340.2" width="0.9" height="0.9" fill="#c893cc" fill-opacity="0.4"/>
<rect x="559.9" y="346.1" width="0.9" height="0.9" fill="#c893cc" fill-opacity="0.4"/>
<rect x="559.7" y="343.9" width="0.9" height="0.9" fill="#c893cc" fill-opacity="0.4"/>
<rect x="559.8" y="365.8" width="0.9" height="0.9" fill="#c893cc" fill-opacity="0.4"/>
<rect x="560.1" y="337.3" width="0.9" height="0.9" fill="#c893cc" fill-opacity="0.4"/>
<rect x="568.0" y="339.1" width="0.9" height="0.9" fill="#c893cc" fill-opacity="0.4"/>
<rect x="568.1" y="349.6" width="0.9" height="0.9" fill="#c893cc" fill-opacity="0.4"/>
<rect x="568.2" y="356.8" width="0.9" height="0.9" fill="#c893cc" fill-opacity="0.4"/>
<rect x="568.6" y="358.1" width="0.9" height="0.9" fill="#c893cc" fill-opacity="0.4"/>
<rect x="567.9" y="337.6" width="0.9" height="0.9" fill="#c893cc" fill-opacity="0.4"/>
<rect x="567.9" y="345.7" width="0.9" height="0.9" fill="#c893cc" fill-opacity="0.4"/>
<rect x="568.2" y="334.7" width="0.9" height="0.9" fill="#c893cc" fill-opacity="0.4"/>
<rect x="568.3" y="356.7" width="0.9" height="0.9" fill="#c893cc" fill-opacity="0.4"/>
<rect x="568.6" y="349.6" width="0.9" height="0.9" fill="#c893cc" fill-opacity="0.4"/>
<rect x="576.7" y="365.4" width="0.9" height="0.9" fill="#c893cc" fill-opacity="0.4"/>
<rect x="576.2" y="338.3" width="0.9" height="0.9" fill="#c893cc" fill-opacity="0.4"/>
<rect x="576.1" y="358.5" width="0.9" height="0.9" fill="#c893cc" fill-opacity="0.4"/>
<rect x="576.6" y="360.8" width="0.9" height="0.9" fill="#c893cc" fill-opacity="0.4"/>
<rect x="576.8" y="351.7" width="0.9" height="0.9" fill="#c893cc" fill-opacity="0.4"/>
<rect x="576.7" y="343.3" width="0.9" height="0.9" fill="#c893cc" fill-opacity="0.4"/>
<rect x="576.4" y="351.6" width="0.9" height="0.9" fill="#c893cc" fill-opacity="0.4"/>
<rect x="576.7" y="352.9" width="0.9" height="0.9" fill="#c893cc" fill-opacity="0.4"/>
<rect x="576.2" y="362.7" width="0.9" height="0.9" fill="#c893cc" fill-opacity="0.4"/>
<rect x="584.5" y="351.6" width="0.9" height="0.9" fill="#c893cc" fill-opacity="0.4"/>
<rect x="584.4" y="356.2" width="0.9" height="0.9" fill="#c893cc" fill-opacity="0.4"/>
<rect x="584.8" y="366.1" width="0.9" height="0.9" fill="#c893cc" fill-opacity="0.4"/>
<rect x="584.3" y="363.9" width="0.9" height="0.9" fill="#c893cc" fill-opacity="0.4"/>
<rect x="584.7" y="359.9" width="0.9" height="0.9" fill="#c893cc" fill-opacity="0.4"/>
<rect x="584.6" y="357.9" width="0.9" height="0.9" fill="#c893cc" fill-opacity="0.4"/>
<rect x="584.3" y="365.5" width="0.9" height="0.9" fill="#c893cc" fill-opacity="0.4"/>
<rect x="584.5" y="339.6" width="0.9" height="0.9" fill="#c893cc" fill-opacity="0.4"/>
<rect x="584.8" y="360.6" width="0.9" height="0.9" fill="#c893cc" fill-opacity="0.4"/>
<rect x="593.2" y="353.9" width="0.9" height="0.9" fill="#c893cc" fill-opacity="0.4"/>
<rect x="592.6" y="359.5" width="0.9" height="0.9" fill="#c893cc" fill-opacity="0.4"/>
<rect x="593.2" y="357.1" width="0.9" height="0.9" fill="#c893cc" fill-opacity="0.4"/>
<rect x="592.5" y="353.3" width="0.9" height="0.9" fill="#c893cc" fill-opacity="0.4"/>
<rect x="592.8" y="355.6" width="0.9" height="0.9" fill="#c893cc" fill-opacity="0.4"/>
<rect x="592.7" y="352.6" width="0.9" height="0.9" fill="#c893cc" fill-opacity="0.4"/>
<rect x="593.0" y="363.0" width="0.9" height="0.9" fill="#c893cc" fill-opacity="0.4"/>
<rect x="592.5" y="356.6" width="0.9" height="0.9" fill="#c893cc" fill-opacity="0.4"/>
<rect x="592.7" y="349.9" width="0.9" height="0.9" fill="#c893cc" fill-opacity="0.4"/>
<rect x="600.8" y="365.6" width="0.9" height="0.9" fill="#c893cc" fill-opacity="0.4"/>
<rect x="601.3" y="360.4" width="0.9" height="0.9" fill="#c893cc" fill-opacity="0.4"/>
<rect x="600.8" y="353.3" width="0.9" height="0.9" fill="#c893cc" fill-opacity="0.4"/>
<rect x="601.4" y="356.4" width="0.9" height="0.9" fill="#c893cc" fill-opacity="0.4"/>
<rect x="600.8" y="372.0" width="0.9" height="0.9" fill="#c893cc" fill-opacity="0.4"/>
<rect x="600.8" y="361.3" width="0.9" height="0.9" fill="#c893cc" fill-opacity="0.4"/>
<rect x="601.4" y="355.6" width="0.9" height="0.9" fill="#c893cc" fill-opacity="0.4"/>
<rect x="601.0" y="362.7" width="0.9" height="0.9" fill="#c893cc" fill-opacity="0.4"/>
<rect x="601.0" y="365.2" width="0.9" height="0.9" fill="#c893cc" fill-opacity="0.4"/>
<rect x="519.2" y="347.7" width="0.9" height="0.9" fill="#e87468" fill-opacity="0.4"/>
<rect x="519.0" y="342.0" width="0.9" height="0.9" fill="#e87468" fill-opacity="0.4"/>
<rect x="518.8" y="347.8" width="0.9" height="0.9" fill="#e87468" fill-opacity="0.4"/>
<rect x="518.7" y="342.7" width="0.9" height="0.9" fill="#e87468" fill-opacity="0.4"/>
<rect x="518.7" y="330.1" width="0.9" height="0.9" fill="#e87468" fill-opacity="0.4"/>
<rect x="519.4" y="354.0" width="0.9" height="0.9" fill="#e87468" fill-opacity="0.4"/>
<rect x="519.2" y="361.9" width="0.9" height="0.9" fill="#e87468" fill-opacity="0.4"/>
<rect x="518.9" y="343.2" width="0.9" height="0.9" fill="#e87468" fill-opacity="0.4"/>
<rect x="518.8" y="355.6" width="0.9" height="0.9" fill="#e87468" fill-opacity="0.4"/>
<rect x="551.5" y="343.8" width="0.9" height="0.9" fill="#e87468" fill-opacity="0.4"/>
<rect x="552.0" y="343.4" width="0.9" height="0.9" fill="#e87468" fill-opacity="0.4"/>
<rect x="551.7" y="353.3" width="0.9" height="0.9" fill="#e87468" fill-opacity="0.4"/>
<rect x="551.6" y="354.3" width="0.9" height="0.9" fill="#e87468" fill-opacity="0.4"/>
<rect x="551.7" y="348.6" width="0.9" height="0.9" fill="#e87468" fill-opacity="0.4"/>
<rect x="552.2" y="361.7" width="0.9" height="0.9" fill="#e87468" fill-opacity="0.4"/>
<rect x="551.6" y="361.5" width="0.9" height="0.9" fill="#e87468" fill-opacity="0.4"/>
<rect x="551.7" y="354.3" width="0.9" height="0.9" fill="#e87468" fill-opacity="0.4"/>
<rect x="551.8" y="336.4" width="0.9" height="0.9" fill="#e87468" fill-opacity="0.4"/>
<rect x="559.7" y="346.7" width="0.9" height="0.9" fill="#e87468" fill-opacity="0.4"/>
<rect x="560.4" y="354.7" width="0.9" height="0.9" fill="#e87468" fill-opacity="0.4"/>
<rect x="559.8" y="343.4" width="0.9" height="0.9" fill="#e87468" fill-opacity="0.4"/>
<rect x="559.7" y="365.1" width="0.9" height="0.9" fill="#e87468" fill-opacity="0.4"/>
<rect x="560.0" y="358.2" width="0.9" height="0.9" fill="#e87468" fill-opacity="0.4"/>
<rect x="559.7" y="342.2" width="0.9" height="0.9" fill="#e87468" fill-opacity="0.4"/>
<rect x="559.7" y="368.5" width="0.9" height="0.9" fill="#e87468" fill-opacity="0.4"/>
<rect x="559.9" y="359.8" width="0.9" height="0.9" fill="#e87468" fill-opacity="0.4"/>
<rect x="560.2" y="358.8" width="0.9" height="0.9" fill="#e87468" fill-opacity="0.4"/>
<rect x="568.1" y="353.7" width="0.9" height="0.9" fill="#e87468" fill-opacity="0.4"/>
<rect x="568.6" y="353.5" width="0.9" height="0.9" fill="#e87468" fill-opacity="0.4"/>
<rect x="568.4" y="353.9" width="0.9" height="0.9" fill="#e87468" fill-opacity="0.4"/>
<rect x="568.1" y="357.5" width="0.9" height="0.9" fill="#e87468" fill-opacity="0.4"/>
<rect x="568.5" y="358.3" width="0.9" height="0.9" fill="#e87468" fill-opacity="0.4"/>
<rect x="568.6" y="346.1" width="0.9" height="0.9" fill="#e87468" fill-opacity="0.4"/>
<rect x="567.9" y="344.8" width="0.9" height="0.9" fill="#e87468" fill-opacity="0.4"/>
<rect x="568.0" y="339.8" width="0.9" height="0.9" fill="#e87468" fill-opacity="0.4"/>
<rect x="568.6" y="360.5" width="0.9" height="0.9" fill="#e87468" fill-opacity="0.4"/>
<rect x="576.4" y="360.5" width="0.9" height="0.9" fill="#e87468" fill-opacity="0.4"/>
<rect x="576.4" y="367.8" width="0.9" height="0.9" fill="#e87468" fill-opacity="0.4"/>
<rect x="576.8" y="365.6" width="0.9" height="0.9" fill="#e87468" fill-opacity="0.4"/>
<rect x="576.6" y="371.8" width="0.9" height="0.9" fill="#e87468" fill-opacity="0.4"/>
<rect x="576.7" y="361.9" width="0.9" height="0.9" fill="#e87468" fill-opacity="0.4"/>
<rect x="576.3" y="351.3" width="0.9" height="0.9" fill="#e87468" fill-opacity="0.4"/>
<rect x="576.3" y="352.8" width="0.9" height="0.9" fill="#e87468" fill-opacity="0.4"/>
<rect x="576.1" y="369.7" width="0.9" height="0.9" fill="#e87468" fill-opacity="0.4"/>
<rect x="576.2" y="360.6" width="0.9" height="0.9" fill="#e87468" fill-opacity="0.4"/>
<rect x="584.3" y="356.4" width="0.9" height="0.9" fill="#e87468" fill-opacity="0.4"/>
<rect x="584.3" y="355.8" width="0.9" height="0.9" fill="#e87468" fill-opacity="0.4"/>
<rect x="585.0" y="359.4" width="0.9" height="0.9" fill="#e87468" fill-opacity="0.4"/>
<rect x="585.0" y="366.3" width="0.9" height="0.9" fill="#e87468" fill-opacity="0.4"/>
<rect x="584.3" y="360.9" width="0.9" height="0.9" fill="#e87468" fill-opacity="0.4"/>
<rect x="584.3" y="351.1" width="0.9" height="0.9" fill="#e87468" fill-opacity="0.4"/>
<rect x="584.6" y="361.3" width="0.9" height="0.9" fill="#e87468" fill-opacity="0.4"/>
<rect x="584.4" y="353.5" width="0.9" height="0.9" fill="#e87468" fill-opacity="0.4"/>
<rect x="584.8" y="365.7" width="0.9" height="0.9" fill="#e87468" fill-opacity="0.4"/>
<rect x="593.0" y="369.6" width="0.9" height="0.9" fill="#e87468" fill-opacity="0.4"/>
<rect x="592.5" y="356.7" width="0.9" height="0.9" fill="#e87468" fill-opacity="0.4"/>
<rect x="593.1" y="362.0" width="0.9" height="0.9" fill="#e87468" fill-opacity="0.4"/>
<rect x="592.7" y="372.1" width="0.9" height="0.9" fill="#e87468" fill-opacity="0.4"/>
<rect x="593.0" y="365.7" width="0.9" height="0.9" fill="#e87468" fill-opacity="0.4"/>
<rect x="592.6" y="368.7" width="0.9" height="0.9" fill="#e87468" fill-opacity="0.4"/>
<rect x="592.6" y="370.4" width="0.9" height="0.9" fill="#e87468" fill-opacity="0.4"/>
<rect x="592.7" y="358.8" width="0.9" height="0.9" fill="#e87468" fill-opacity="0.4"/>
<rect x="592.8" y="371.7" width="0.9" height="0.9" fill="#e87468" fill-opacity="0.4"/>
<rect x="600.8" y="367.5" width="0.9" height="0.9" fill="#e87468" fill-opacity="0.4"/>
<rect x="601.3" y="357.2" width="0.9" height="0.9" fill="#e87468" fill-opacity="0.4"/>
<rect x="600.7" y="352.5" width="0.9" height="0.9" fill="#e87468" fill-opacity="0.4"/>
<rect x="601.0" y="372.8" width="0.9" height="0.9" fill="#e87468" fill-opacity="0.4"/>
<rect x="601.4" y="357.3" width="0.9" height="0.9" fill="#e87468" fill-opacity="0.4"/>
<rect x="600.7" y="367.0" width="0.9" height="0.9" fill="#e87468" fill-opacity="0.4"/>
<rect x="600.8" y="370.8" width="0.9" height="0.9" fill="#e87468" fill-opacity="0.4"/>
<rect x="601.4" y="355.7" width="0.9" height="0.9" fill="#e87468" fill-opacity="0.4"/>
<rect x="600.9" y="360.8" width="0.9" height="0.9" fill="#e87468" fill-opacity="0.4"/>
<polygon points="519.5,373.3 544.1,368.7 552.3,367.1 560.5,363.9 568.7,360.6 576.9,357.0 585.1,352.9 593.3,349.3 601.5,343.8 601.5,352.6 593.3,358.1 585.1,361.7 576.9,365.8 568.7,369.4 560.5,372.7 552.3,375.9 544.1,377.9 519.5,383.3" fill="#35a9dc" fill-opacity="0.27"/>
<polygon points="519.5,339.4 544.1,342.5 552.3,342.5 560.5,343.8 568.7,346.2 576.9,350.2 585.1,353.2 593.3,355.7 601.5,358.0 601.5,364.8 593.3,362.7 585.1,360.4 576.9,357.8 568.7,353.8 560.5,351.4 552.3,350.1 544.1,350.1 519.5,347.4" fill="#c893cc" fill-opacity="0.27"/>
<polygon points="519.5,339.7 544.1,343.8 552.3,345.1 560.5,350.2 568.7,354.3 576.9,357.4 585.1,358.3 593.3,361.4 601.5,365.1 601.5,371.5 593.3,368.0 585.1,365.1 576.9,364.6 568.7,361.9 560.5,357.8 552.3,352.7 544.1,351.4 519.5,348.1" fill="#e87468" fill-opacity="0.27"/>
<polyline points="519.5,378.3 544.1,373.3 552.3,371.5 560.5,368.3 568.7,365.0 576.9,361.4 585.1,357.3 593.3,353.7 601.5,348.2" fill="none" stroke="#35a9dc" stroke-width="0.85" stroke-linejoin="round"/>
<polyline points="519.5,343.4 544.1,346.3 552.3,346.3 560.5,347.6 568.7,350.0 576.9,354.0 585.1,356.8 593.3,359.2 601.5,361.4" fill="none" stroke="#c893cc" stroke-width="0.85" stroke-linejoin="round"/>
<polyline points="519.5,343.9 544.1,347.6 552.3,348.9 560.5,354.0 568.7,358.1 576.9,361.0 585.1,361.7 593.3,364.7 601.5,368.3" fill="none" stroke="#e87468" stroke-width="0.85" stroke-linejoin="round"/>
<path d="M515.5,317.3 V403.4 H606.1" stroke="#333" stroke-width="0.85" fill="none"/>
<path d="M512.3,317.3 H515.5" stroke="#333" stroke-width="0.85"/>
<text x="500.0" y="320.5" font-size="9.0" fill="#161616" stroke="#161616" stroke-width="0.08" textLength="8.8" lengthAdjust="spacingAndGlyphs">24</text>
<path d="M512.3,331.5 H515.5" stroke="#333" stroke-width="0.85"/>
<text x="500.0" y="334.7" font-size="9.0" fill="#161616" stroke="#161616" stroke-width="0.08" textLength="8.8" lengthAdjust="spacingAndGlyphs">22</text>
<path d="M512.3,346.0 H515.5" stroke="#333" stroke-width="0.85"/>
<text x="500.0" y="349.2" font-size="9.0" fill="#161616" stroke="#161616" stroke-width="0.08" textLength="8.8" lengthAdjust="spacingAndGlyphs">20</text>
<path d="M512.3,360.3 H515.5" stroke="#333" stroke-width="0.85"/>
<text x="500.8" y="363.5" font-size="9.0" fill="#161616" stroke="#161616" stroke-width="0.08" textLength="8.0" lengthAdjust="spacingAndGlyphs">18</text>
<path d="M512.3,374.6 H515.5" stroke="#333" stroke-width="0.85"/>
<text x="500.8" y="377.8" font-size="9.0" fill="#161616" stroke="#161616" stroke-width="0.08" textLength="8.0" lengthAdjust="spacingAndGlyphs">16</text>
<path d="M512.3,389.3 H515.5" stroke="#333" stroke-width="0.85"/>
<text x="500.8" y="392.5" font-size="9.0" fill="#161616" stroke="#161616" stroke-width="0.08" textLength="8.0" lengthAdjust="spacingAndGlyphs">14</text>
<path d="M512.3,403.4 H515.5" stroke="#333" stroke-width="0.85"/>
<text x="500.8" y="406.6" font-size="9.0" fill="#161616" stroke="#161616" stroke-width="0.08" textLength="8.0" lengthAdjust="spacingAndGlyphs">12</text>
<path d="M519.5,403.4 V406.4" stroke="#333" stroke-width="0.85"/>
<path d="M544.1,403.4 V406.4" stroke="#333" stroke-width="0.85"/>
<path d="M552.3,403.4 V406.4" stroke="#333" stroke-width="0.85"/>
<path d="M560.5,403.4 V406.4" stroke="#333" stroke-width="0.85"/>
<path d="M568.7,403.4 V406.4" stroke="#333" stroke-width="0.85"/>
<path d="M576.9,403.4 V406.4" stroke="#333" stroke-width="0.85"/>
<path d="M585.1,403.4 V406.4" stroke="#333" stroke-width="0.85"/>
<path d="M593.3,403.4 V406.4" stroke="#333" stroke-width="0.85"/>
<path d="M601.5,403.4 V406.4" stroke="#333" stroke-width="0.85"/>
<path d="M604.9,359.9 V369.2" stroke="#111" stroke-width="1.3"/>
<text x="609.4" y="369.0" font-size="10.5" fill="#111" stroke="#111" stroke-width="0.18" text-anchor="middle" font-weight="bold">*</text>
<path d="M387.6,414.6 V501.1" stroke="#555" stroke-width="0.55" stroke-dasharray="0.7,0.5"/>
<rect x="362.8" y="480.8" width="0.9" height="0.9" fill="#35a9dc" fill-opacity="0.4"/>
<rect x="362.8" y="489.0" width="0.9" height="0.9" fill="#35a9dc" fill-opacity="0.4"/>
<rect x="362.9" y="495.8" width="0.9" height="0.9" fill="#35a9dc" fill-opacity="0.4"/>
<rect x="362.6" y="493.9" width="0.9" height="0.9" fill="#35a9dc" fill-opacity="0.4"/>
<rect x="362.3" y="483.8" width="0.9" height="0.9" fill="#35a9dc" fill-opacity="0.4"/>
<rect x="362.3" y="490.3" width="0.9" height="0.9" fill="#35a9dc" fill-opacity="0.4"/>
<rect x="362.4" y="477.1" width="0.9" height="0.9" fill="#35a9dc" fill-opacity="0.4"/>
<rect x="362.3" y="479.8" width="0.9" height="0.9" fill="#35a9dc" fill-opacity="0.4"/>
<rect x="362.2" y="481.1" width="0.9" height="0.9" fill="#35a9dc" fill-opacity="0.4"/>
<rect x="395.1" y="488.2" width="0.9" height="0.9" fill="#35a9dc" fill-opacity="0.4"/>
<rect x="395.2" y="481.9" width="0.9" height="0.9" fill="#35a9dc" fill-opacity="0.4"/>
<rect x="395.4" y="491.1" width="0.9" height="0.9" fill="#35a9dc" fill-opacity="0.4"/>
<rect x="395.0" y="484.1" width="0.9" height="0.9" fill="#35a9dc" fill-opacity="0.4"/>
<rect x="395.4" y="482.5" width="0.9" height="0.9" fill="#35a9dc" fill-opacity="0.4"/>
<rect x="395.5" y="481.8" width="0.9" height="0.9" fill="#35a9dc" fill-opacity="0.4"/>
<rect x="395.5" y="480.4" width="0.9" height="0.9" fill="#35a9dc" fill-opacity="0.4"/>
<rect x="395.3" y="476.5" width="0.9" height="0.9" fill="#35a9dc" fill-opacity="0.4"/>
<rect x="395.7" y="484.4" width="0.9" height="0.9" fill="#35a9dc" fill-opacity="0.4"/>
<rect x="403.4" y="465.5" width="0.9" height="0.9" fill="#35a9dc" fill-opacity="0.4"/>
<rect x="403.5" y="469.3" width="0.9" height="0.9" fill="#35a9dc" fill-opacity="0.4"/>
<rect x="403.8" y="479.9" width="0.9" height="0.9" fill="#35a9dc" fill-opacity="0.4"/>
<rect x="403.3" y="472.2" width="0.9" height="0.9" fill="#35a9dc" fill-opacity="0.4"/>
<rect x="403.7" y="472.6" width="0.9" height="0.9" fill="#35a9dc" fill-opacity="0.4"/>
<rect x="403.9" y="473.2" width="0.9" height="0.9" fill="#35a9dc" fill-opacity="0.4"/>
<rect x="403.5" y="475.8" width="0.9" height="0.9" fill="#35a9dc" fill-opacity="0.4"/>
<rect x="403.9" y="465.0" width="0.9" height="0.9" fill="#35a9dc" fill-opacity="0.4"/>
<rect x="403.5" y="473.1" width="0.9" height="0.9" fill="#35a9dc" fill-opacity="0.4"/>
<rect x="411.8" y="468.0" width="0.9" height="0.9" fill="#35a9dc" fill-opacity="0.4"/>
<rect x="411.9" y="469.7" width="0.9" height="0.9" fill="#35a9dc" fill-opacity="0.4"/>
<rect x="411.8" y="464.9" width="0.9" height="0.9" fill="#35a9dc" fill-opacity="0.4"/>
<rect x="411.6" y="462.2" width="0.9" height="0.9" fill="#35a9dc" fill-opacity="0.4"/>
<rect x="411.6" y="466.6" width="0.9" height="0.9" fill="#35a9dc" fill-opacity="0.4"/>
<rect x="411.8" y="470.2" width="0.9" height="0.9" fill="#35a9dc" fill-opacity="0.4"/>
<rect x="411.7" y="465.0" width="0.9" height="0.9" fill="#35a9dc" fill-opacity="0.4"/>
<rect x="412.0" y="472.1" width="0.9" height="0.9" fill="#35a9dc" fill-opacity="0.4"/>
<rect x="411.5" y="465.6" width="0.9" height="0.9" fill="#35a9dc" fill-opacity="0.4"/>
<rect x="420.3" y="470.2" width="0.9" height="0.9" fill="#35a9dc" fill-opacity="0.4"/>
<rect x="419.6" y="459.5" width="0.9" height="0.9" fill="#35a9dc" fill-opacity="0.4"/>
<rect x="420.3" y="447.5" width="0.9" height="0.9" fill="#35a9dc" fill-opacity="0.4"/>
<rect x="420.0" y="472.4" width="0.9" height="0.9" fill="#35a9dc" fill-opacity="0.4"/>
<rect x="420.2" y="468.6" width="0.9" height="0.9" fill="#35a9dc" fill-opacity="0.4"/>
<rect x="419.7" y="473.1" width="0.9" height="0.9" fill="#35a9dc" fill-opacity="0.4"/>
<rect x="419.9" y="469.7" width="0.9" height="0.9" fill="#35a9dc" fill-opacity="0.4"/>
<rect x="419.7" y="448.3" width="0.9" height="0.9" fill="#35a9dc" fill-opacity="0.4"/>
<rect x="419.7" y="453.0" width="0.9" height="0.9" fill="#35a9dc" fill-opacity="0.4"/>
<rect x="428.1" y="462.7" width="0.9" height="0.9" fill="#35a9dc" fill-opacity="0.4"/>
<rect x="427.8" y="457.1" width="0.9" height="0.9" fill="#35a9dc" fill-opacity="0.4"/>
<rect x="428.5" y="470.0" width="0.9" height="0.9" fill="#35a9dc" fill-opacity="0.4"/>
<rect x="427.8" y="444.1" width="0.9" height="0.9" fill="#35a9dc" fill-opacity="0.4"/>
<rect x="427.8" y="451.6" width="0.9" height="0.9" fill="#35a9dc" fill-opacity="0.4"/>
<rect x="428.4" y="465.0" width="0.9" height="0.9" fill="#35a9dc" fill-opacity="0.4"/>
<rect x="428.2" y="464.3" width="0.9" height="0.9" fill="#35a9dc" fill-opacity="0.4"/>
<rect x="428.3" y="453.9" width="0.9" height="0.9" fill="#35a9dc" fill-opacity="0.4"/>
<rect x="428.2" y="464.9" width="0.9" height="0.9" fill="#35a9dc" fill-opacity="0.4"/>
<rect x="436.3" y="446.5" width="0.9" height="0.9" fill="#35a9dc" fill-opacity="0.4"/>
<rect x="436.3" y="443.9" width="0.9" height="0.9" fill="#35a9dc" fill-opacity="0.4"/>
<rect x="436.0" y="444.4" width="0.9" height="0.9" fill="#35a9dc" fill-opacity="0.4"/>
<rect x="436.1" y="444.9" width="0.9" height="0.9" fill="#35a9dc" fill-opacity="0.4"/>
<rect x="436.6" y="453.0" width="0.9" height="0.9" fill="#35a9dc" fill-opacity="0.4"/>
<rect x="436.1" y="442.5" width="0.9" height="0.9" fill="#35a9dc" fill-opacity="0.4"/>
<rect x="436.3" y="454.7" width="0.9" height="0.9" fill="#35a9dc" fill-opacity="0.4"/>
<rect x="436.3" y="454.0" width="0.9" height="0.9" fill="#35a9dc" fill-opacity="0.4"/>
<rect x="436.0" y="442.2" width="0.9" height="0.9" fill="#35a9dc" fill-opacity="0.4"/>
<rect x="444.2" y="451.6" width="0.9" height="0.9" fill="#35a9dc" fill-opacity="0.4"/>
<rect x="444.7" y="459.9" width="0.9" height="0.9" fill="#35a9dc" fill-opacity="0.4"/>
<rect x="444.8" y="454.8" width="0.9" height="0.9" fill="#35a9dc" fill-opacity="0.4"/>
<rect x="444.6" y="457.4" width="0.9" height="0.9" fill="#35a9dc" fill-opacity="0.4"/>
<rect x="444.5" y="451.4" width="0.9" height="0.9" fill="#35a9dc" fill-opacity="0.4"/>
<rect x="444.9" y="458.9" width="0.9" height="0.9" fill="#35a9dc" fill-opacity="0.4"/>
<rect x="444.9" y="460.5" width="0.9" height="0.9" fill="#35a9dc" fill-opacity="0.4"/>
<rect x="444.7" y="450.2" width="0.9" height="0.9" fill="#35a9dc" fill-opacity="0.4"/>
<rect x="444.9" y="443.0" width="0.9" height="0.9" fill="#35a9dc" fill-opacity="0.4"/>
<rect x="362.5" y="442.5" width="0.9" height="0.9" fill="#c893cc" fill-opacity="0.4"/>
<rect x="362.3" y="432.1" width="0.9" height="0.9" fill="#c893cc" fill-opacity="0.4"/>
<rect x="362.8" y="435.6" width="0.9" height="0.9" fill="#c893cc" fill-opacity="0.4"/>
<rect x="362.4" y="433.8" width="0.9" height="0.9" fill="#c893cc" fill-opacity="0.4"/>
<rect x="362.8" y="438.7" width="0.9" height="0.9" fill="#c893cc" fill-opacity="0.4"/>
<rect x="362.4" y="441.2" width="0.9" height="0.9" fill="#c893cc" fill-opacity="0.4"/>
<rect x="362.8" y="437.1" width="0.9" height="0.9" fill="#c893cc" fill-opacity="0.4"/>
<rect x="362.9" y="437.9" width="0.9" height="0.9" fill="#c893cc" fill-opacity="0.4"/>
<rect x="362.3" y="434.0" width="0.9" height="0.9" fill="#c893cc" fill-opacity="0.4"/>
<rect x="395.2" y="465.7" width="0.9" height="0.9" fill="#c893cc" fill-opacity="0.4"/>
<rect x="395.0" y="454.6" width="0.9" height="0.9" fill="#c893cc" fill-opacity="0.4"/>
<rect x="395.7" y="458.1" width="0.9" height="0.9" fill="#c893cc" fill-opacity="0.4"/>
<rect x="395.5" y="457.4" width="0.9" height="0.9" fill="#c893cc" fill-opacity="0.4"/>
<rect x="395.6" y="447.4" width="0.9" height="0.9" fill="#c893cc" fill-opacity="0.4"/>
<rect x="395.0" y="435.3" width="0.9" height="0.9" fill="#c893cc" fill-opacity="0.4"/>
<rect x="395.2" y="448.5" width="0.9" height="0.9" fill="#c893cc" fill-opacity="0.4"/>
<rect x="395.6" y="437.2" width="0.9" height="0.9" fill="#c893cc" fill-opacity="0.4"/>
<rect x="395.7" y="446.5" width="0.9" height="0.9" fill="#c893cc" fill-opacity="0.4"/>
<rect x="403.2" y="475.4" width="0.9" height="0.9" fill="#c893cc" fill-opacity="0.4"/>
<rect x="403.5" y="456.4" width="0.9" height="0.9" fill="#c893cc" fill-opacity="0.4"/>
<rect x="403.8" y="453.6" width="0.9" height="0.9" fill="#c893cc" fill-opacity="0.4"/>
<rect x="403.6" y="496.5" width="0.9" height="0.9" fill="#c893cc" fill-opacity="0.4"/>
<rect x="403.4" y="458.5" width="0.9" height="0.9" fill="#c893cc" fill-opacity="0.4"/>
<rect x="403.3" y="443.3" width="0.9" height="0.9" fill="#c893cc" fill-opacity="0.4"/>
<rect x="403.7" y="480.1" width="0.9" height="0.9" fill="#c893cc" fill-opacity="0.4"/>
<rect x="403.4" y="464.4" width="0.9" height="0.9" fill="#c893cc" fill-opacity="0.4"/>
<rect x="403.7" y="474.3" width="0.9" height="0.9" fill="#c893cc" fill-opacity="0.4"/>
<rect x="411.9" y="456.5" width="0.9" height="0.9" fill="#c893cc" fill-opacity="0.4"/>
<rect x="411.6" y="461.4" width="0.9" height="0.9" fill="#c893cc" fill-opacity="0.4"/>
<rect x="411.5" y="458.2" width="0.9" height="0.9" fill="#c893cc" fill-opacity="0.4"/>
<rect x="411.8" y="444.5" width="0.9" height="0.9" fill="#c893cc" fill-opacity="0.4"/>
<rect x="412.1" y="464.4" width="0.9" height="0.9" fill="#c893cc" fill-opacity="0.4"/>
<rect x="411.5" y="460.7" width="0.9" height="0.9" fill="#c893cc" fill-opacity="0.4"/>
<rect x="411.4" y="476.2" width="0.9" height="0.9" fill="#c893cc" fill-opacity="0.4"/>
<rect x="411.4" y="454.5" width="0.9" height="0.9" fill="#c893cc" fill-opacity="0.4"/>
<rect x="411.6" y="462.8" width="0.9" height="0.9" fill="#c893cc" fill-opacity="0.4"/>
<rect x="419.7" y="445.0" width="0.9" height="0.9" fill="#c893cc" fill-opacity="0.4"/>
<rect x="419.7" y="450.1" width="0.9" height="0.9" fill="#c893cc" fill-opacity="0.4"/>
<rect x="420.0" y="451.6" width="0.9" height="0.9" fill="#c893cc" fill-opacity="0.4"/>
<rect x="420.3" y="458.1" width="0.9" height="0.9" fill="#c893cc" fill-opacity="0.4"/>
<rect x="419.7" y="460.1" width="0.9" height="0.9" fill="#c893cc" fill-opacity="0.4"/>
<rect x="420.1" y="461.1" width="0.9" height="0.9" fill="#c893cc" fill-opacity="0.4"/>
<rect x="420.2" y="459.4" width="0.9" height="0.9" fill="#c893cc" fill-opacity="0.4"/>
<rect x="419.8" y="446.7" width="0.9" height="0.9" fill="#c893cc" fill-opacity="0.4"/>
<rect x="419.6" y="448.9" width="0.9" height="0.9" fill="#c893cc" fill-opacity="0.4"/>
<rect x="428.0" y="446.8" width="0.9" height="0.9" fill="#c893cc" fill-opacity="0.4"/>
<rect x="428.3" y="434.2" width="0.9" height="0.9" fill="#c893cc" fill-opacity="0.4"/>
<rect x="428.3" y="466.3" width="0.9" height="0.9" fill="#c893cc" fill-opacity="0.4"/>
<rect x="427.9" y="460.3" width="0.9" height="0.9" fill="#c893cc" fill-opacity="0.4"/>
<rect x="428.2" y="455.8" width="0.9" height="0.9" fill="#c893cc" fill-opacity="0.4"/>
<rect x="428.1" y="457.9" width="0.9" height="0.9" fill="#c893cc" fill-opacity="0.4"/>
<rect x="428.4" y="461.3" width="0.9" height="0.9" fill="#c893cc" fill-opacity="0.4"/>
<rect x="427.8" y="433.6" width="0.9" height="0.9" fill="#c893cc" fill-opacity="0.4"/>
<rect x="427.9" y="449.7" width="0.9" height="0.9" fill="#c893cc" fill-opacity="0.4"/>
<rect x="436.1" y="448.2" width="0.9" height="0.9" fill="#c893cc" fill-opacity="0.4"/>
<rect x="436.5" y="450.2" width="0.9" height="0.9" fill="#c893cc" fill-opacity="0.4"/>
<rect x="436.6" y="463.2" width="0.9" height="0.9" fill="#c893cc" fill-opacity="0.4"/>
<rect x="436.2" y="467.5" width="0.9" height="0.9" fill="#c893cc" fill-opacity="0.4"/>
<rect x="436.0" y="474.1" width="0.9" height="0.9" fill="#c893cc" fill-opacity="0.4"/>
<rect x="436.5" y="446.0" width="0.9" height="0.9" fill="#c893cc" fill-opacity="0.4"/>
<rect x="436.0" y="469.3" width="0.9" height="0.9" fill="#c893cc" fill-opacity="0.4"/>
<rect x="436.3" y="443.1" width="0.9" height="0.9" fill="#c893cc" fill-opacity="0.4"/>
<rect x="436.5" y="451.0" width="0.9" height="0.9" fill="#c893cc" fill-opacity="0.4"/>
<rect x="444.2" y="464.9" width="0.9" height="0.9" fill="#c893cc" fill-opacity="0.4"/>
<rect x="444.3" y="473.0" width="0.9" height="0.9" fill="#c893cc" fill-opacity="0.4"/>
<rect x="444.7" y="465.0" width="0.9" height="0.9" fill="#c893cc" fill-opacity="0.4"/>
<rect x="444.7" y="473.2" width="0.9" height="0.9" fill="#c893cc" fill-opacity="0.4"/>
<rect x="444.4" y="446.5" width="0.9" height="0.9" fill="#c893cc" fill-opacity="0.4"/>
<rect x="444.6" y="442.6" width="0.9" height="0.9" fill="#c893cc" fill-opacity="0.4"/>
<rect x="444.6" y="470.7" width="0.9" height="0.9" fill="#c893cc" fill-opacity="0.4"/>
<rect x="444.4" y="442.6" width="0.9" height="0.9" fill="#c893cc" fill-opacity="0.4"/>
<rect x="444.3" y="437.8" width="0.9" height="0.9" fill="#c893cc" fill-opacity="0.4"/>
<rect x="362.9" y="445.4" width="0.9" height="0.9" fill="#e87468" fill-opacity="0.4"/>
<rect x="362.3" y="439.6" width="0.9" height="0.9" fill="#e87468" fill-opacity="0.4"/>
<rect x="362.7" y="452.0" width="0.9" height="0.9" fill="#e87468" fill-opacity="0.4"/>
<rect x="362.4" y="434.2" width="0.9" height="0.9" fill="#e87468" fill-opacity="0.4"/>
<rect x="362.9" y="436.0" width="0.9" height="0.9" fill="#e87468" fill-opacity="0.4"/>
<rect x="362.9" y="444.4" width="0.9" height="0.9" fill="#e87468" fill-opacity="0.4"/>
<rect x="362.7" y="434.6" width="0.9" height="0.9" fill="#e87468" fill-opacity="0.4"/>
<rect x="362.9" y="427.4" width="0.9" height="0.9" fill="#e87468" fill-opacity="0.4"/>
<rect x="362.5" y="445.9" width="0.9" height="0.9" fill="#e87468" fill-opacity="0.4"/>
<rect x="395.6" y="426.8" width="0.9" height="0.9" fill="#e87468" fill-opacity="0.4"/>
<rect x="395.3" y="435.2" width="0.9" height="0.9" fill="#e87468" fill-opacity="0.4"/>
<rect x="395.2" y="427.0" width="0.9" height="0.9" fill="#e87468" fill-opacity="0.4"/>
<rect x="395.1" y="434.6" width="0.9" height="0.9" fill="#e87468" fill-opacity="0.4"/>
<rect x="395.7" y="434.6" width="0.9" height="0.9" fill="#e87468" fill-opacity="0.4"/>
<rect x="395.1" y="440.3" width="0.9" height="0.9" fill="#e87468" fill-opacity="0.4"/>
<rect x="395.7" y="437.4" width="0.9" height="0.9" fill="#e87468" fill-opacity="0.4"/>
<rect x="395.2" y="437.9" width="0.9" height="0.9" fill="#e87468" fill-opacity="0.4"/>
<rect x="395.0" y="438.2" width="0.9" height="0.9" fill="#e87468" fill-opacity="0.4"/>
<rect x="403.7" y="429.6" width="0.9" height="0.9" fill="#e87468" fill-opacity="0.4"/>
<rect x="403.7" y="428.7" width="0.9" height="0.9" fill="#e87468" fill-opacity="0.4"/>
<rect x="403.2" y="431.4" width="0.9" height="0.9" fill="#e87468" fill-opacity="0.4"/>
<rect x="403.8" y="433.6" width="0.9" height="0.9" fill="#e87468" fill-opacity="0.4"/>
<rect x="403.8" y="439.6" width="0.9" height="0.9" fill="#e87468" fill-opacity="0.4"/>
<rect x="403.8" y="435.7" width="0.9" height="0.9" fill="#e87468" fill-opacity="0.4"/>
<rect x="403.9" y="440.8" width="0.9" height="0.9" fill="#e87468" fill-opacity="0.4"/>
<rect x="403.3" y="436.2" width="0.9" height="0.9" fill="#e87468" fill-opacity="0.4"/>
<rect x="403.2" y="451.9" width="0.9" height="0.9" fill="#e87468" fill-opacity="0.4"/>
<rect x="412.0" y="442.9" width="0.9" height="0.9" fill="#e87468" fill-opacity="0.4"/>
<rect x="411.9" y="444.5" width="0.9" height="0.9" fill="#e87468" fill-opacity="0.4"/>
<rect x="411.6" y="430.8" width="0.9" height="0.9" fill="#e87468" fill-opacity="0.4"/>
<rect x="411.4" y="449.8" width="0.9" height="0.9" fill="#e87468" fill-opacity="0.4"/>
<rect x="411.5" y="446.9" width="0.9" height="0.9" fill="#e87468" fill-opacity="0.4"/>
<rect x="411.6" y="438.5" width="0.9" height="0.9" fill="#e87468" fill-opacity="0.4"/>
<rect x="411.6" y="440.5" width="0.9" height="0.9" fill="#e87468" fill-opacity="0.4"/>
<rect x="411.6" y="438.4" width="0.9" height="0.9" fill="#e87468" fill-opacity="0.4"/>
<rect x="411.6" y="433.1" width="0.9" height="0.9" fill="#e87468" fill-opacity="0.4"/>
<rect x="420.3" y="432.5" width="0.9" height="0.9" fill="#e87468" fill-opacity="0.4"/>
<rect x="420.0" y="445.5" width="0.9" height="0.9" fill="#e87468" fill-opacity="0.4"/>
<rect x="419.6" y="439.6" width="0.9" height="0.9" fill="#e87468" fill-opacity="0.4"/>
<rect x="420.2" y="449.7" width="0.9" height="0.9" fill="#e87468" fill-opacity="0.4"/>
<rect x="419.8" y="443.5" width="0.9" height="0.9" fill="#e87468" fill-opacity="0.4"/>
<rect x="419.7" y="437.7" width="0.9" height="0.9" fill="#e87468" fill-opacity="0.4"/>
<rect x="420.2" y="456.5" width="0.9" height="0.9" fill="#e87468" fill-opacity="0.4"/>
<rect x="419.7" y="452.7" width="0.9" height="0.9" fill="#e87468" fill-opacity="0.4"/>
<rect x="419.6" y="449.3" width="0.9" height="0.9" fill="#e87468" fill-opacity="0.4"/>
<rect x="428.5" y="459.1" width="0.9" height="0.9" fill="#e87468" fill-opacity="0.4"/>
<rect x="427.8" y="440.1" width="0.9" height="0.9" fill="#e87468" fill-opacity="0.4"/>
<rect x="428.4" y="448.5" width="0.9" height="0.9" fill="#e87468" fill-opacity="0.4"/>
<rect x="427.9" y="441.7" width="0.9" height="0.9" fill="#e87468" fill-opacity="0.4"/>
<rect x="428.4" y="448.3" width="0.9" height="0.9" fill="#e87468" fill-opacity="0.4"/>
<rect x="428.0" y="453.3" width="0.9" height="0.9" fill="#e87468" fill-opacity="0.4"/>
<rect x="427.9" y="446.1" width="0.9" height="0.9" fill="#e87468" fill-opacity="0.4"/>
<rect x="428.3" y="444.7" width="0.9" height="0.9" fill="#e87468" fill-opacity="0.4"/>
<rect x="428.3" y="448.1" width="0.9" height="0.9" fill="#e87468" fill-opacity="0.4"/>
<rect x="436.0" y="452.9" width="0.9" height="0.9" fill="#e87468" fill-opacity="0.4"/>
<rect x="436.6" y="439.4" width="0.9" height="0.9" fill="#e87468" fill-opacity="0.4"/>
<rect x="436.5" y="445.7" width="0.9" height="0.9" fill="#e87468" fill-opacity="0.4"/>
<rect x="436.3" y="456.0" width="0.9" height="0.9" fill="#e87468" fill-opacity="0.4"/>
<rect x="436.7" y="463.2" width="0.9" height="0.9" fill="#e87468" fill-opacity="0.4"/>
<rect x="436.0" y="458.0" width="0.9" height="0.9" fill="#e87468" fill-opacity="0.4"/>
<rect x="436.1" y="449.0" width="0.9" height="0.9" fill="#e87468" fill-opacity="0.4"/>
<rect x="436.4" y="465.7" width="0.9" height="0.9" fill="#e87468" fill-opacity="0.4"/>
<rect x="436.3" y="454.2" width="0.9" height="0.9" fill="#e87468" fill-opacity="0.4"/>
<rect x="444.5" y="449.5" width="0.9" height="0.9" fill="#e87468" fill-opacity="0.4"/>
<rect x="444.6" y="454.4" width="0.9" height="0.9" fill="#e87468" fill-opacity="0.4"/>
<rect x="444.7" y="438.7" width="0.9" height="0.9" fill="#e87468" fill-opacity="0.4"/>
<rect x="444.4" y="451.5" width="0.9" height="0.9" fill="#e87468" fill-opacity="0.4"/>
<rect x="444.8" y="458.6" width="0.9" height="0.9" fill="#e87468" fill-opacity="0.4"/>
<rect x="444.7" y="453.7" width="0.9" height="0.9" fill="#e87468" fill-opacity="0.4"/>
<rect x="444.5" y="448.4" width="0.9" height="0.9" fill="#e87468" fill-opacity="0.4"/>
<rect x="444.8" y="449.8" width="0.9" height="0.9" fill="#e87468" fill-opacity="0.4"/>
<rect x="444.5" y="451.7" width="0.9" height="0.9" fill="#e87468" fill-opacity="0.4"/>
<polygon points="363.0,483.0 387.6,476.4 395.8,474.2 404.0,468.6 412.2,462.9 420.4,457.1 428.6,453.0 436.8,447.5 445.0,444.1 445.0,452.9 436.8,456.1 428.6,461.6 420.4,465.7 412.2,471.5 404.0,477.0 395.8,482.4 387.6,484.8 363.0,491.8" fill="#35a9dc" fill-opacity="0.27"/>
<polygon points="363.0,432.8 387.6,442.1 395.8,446.0 404.0,450.9 412.2,452.0 420.4,452.1 428.6,452.5 436.8,453.2 445.0,456.4 445.0,469.2 436.8,465.2 428.6,463.7 420.4,463.3 412.2,465.2 404.0,464.5 395.8,458.4 387.6,453.1 363.0,436.8" fill="#c893cc" fill-opacity="0.27"/>
<polygon points="363.0,435.0 387.6,433.8 395.8,433.2 404.0,433.9 412.2,436.5 420.4,442.7 428.6,444.9 436.8,446.9 445.0,449.6 445.0,459.2 436.8,454.5 428.6,452.1 420.4,449.9 412.2,444.1 404.0,441.9 395.8,441.2 387.6,442.0 363.0,443.8" fill="#e87468" fill-opacity="0.27"/>
<polyline points="363.0,487.4 387.6,480.6 395.8,478.3 404.0,472.8 412.2,467.2 420.4,461.4 428.6,457.3 436.8,451.8 445.0,448.5" fill="none" stroke="#35a9dc" stroke-width="0.85" stroke-linejoin="round"/>
<polyline points="363.0,434.8 387.6,447.6 395.8,452.2 404.0,457.7 412.2,458.6 420.4,457.7 428.6,458.1 436.8,459.2 445.0,462.8" fill="none" stroke="#c893cc" stroke-width="0.85" stroke-linejoin="round"/>
<polyline points="363.0,439.4 387.6,437.9 395.8,437.2 404.0,437.9 412.2,440.3 420.4,446.3 428.6,448.5 436.8,450.7 445.0,454.4" fill="none" stroke="#e87468" stroke-width="0.85" stroke-linejoin="round"/>
<path d="M359.4,414.6 V501.1 H449.6" stroke="#333" stroke-width="0.85" fill="none"/>
<path d="M356.2,431.1 H359.4" stroke="#333" stroke-width="0.85"/>
<text x="343.0" y="434.3" font-size="9.0" fill="#161616" stroke="#161616" stroke-width="0.08" textLength="8.8" lengthAdjust="spacingAndGlyphs">20</text>
<path d="M356.2,451.8 H359.4" stroke="#333" stroke-width="0.85"/>
<text x="343.8" y="455.0" font-size="9.0" fill="#161616" stroke="#161616" stroke-width="0.08" textLength="8.0" lengthAdjust="spacingAndGlyphs">15</text>
<path d="M356.2,472.4 H359.4" stroke="#333" stroke-width="0.85"/>
<text x="343.8" y="475.6" font-size="9.0" fill="#161616" stroke="#161616" stroke-width="0.08" textLength="8.0" lengthAdjust="spacingAndGlyphs">10</text>
<path d="M356.2,492.9 H359.4" stroke="#333" stroke-width="0.85"/>
<text x="347.4" y="496.1" font-size="9.0" fill="#161616" stroke="#161616" stroke-width="0.08" textLength="4.4" lengthAdjust="spacingAndGlyphs">5</text>
<path d="M363.0,501.1 V504.1" stroke="#333" stroke-width="0.85"/>
<text x="360.8" y="514.7" font-size="8.4" fill="#161616" stroke="#161616" stroke-width="0.08" textLength="4.4" lengthAdjust="spacingAndGlyphs">0</text>
<path d="M387.6,501.1 V504.1" stroke="#333" stroke-width="0.85"/>
<text x="385.4" y="514.7" font-size="8.4" fill="#161616" stroke="#161616" stroke-width="0.08" textLength="4.4" lengthAdjust="spacingAndGlyphs">3</text>
<path d="M395.8,501.1 V504.1" stroke="#333" stroke-width="0.85"/>
<text x="393.6" y="514.7" font-size="8.4" fill="#161616" stroke="#161616" stroke-width="0.08" textLength="4.4" lengthAdjust="spacingAndGlyphs">4</text>
<path d="M404.0,501.1 V504.1" stroke="#333" stroke-width="0.85"/>
<text x="401.8" y="514.7" font-size="8.4" fill="#161616" stroke="#161616" stroke-width="0.08" textLength="4.4" lengthAdjust="spacingAndGlyphs">5</text>
<path d="M412.2,501.1 V504.1" stroke="#333" stroke-width="0.85"/>
<text x="410.0" y="514.7" font-size="8.4" fill="#161616" stroke="#161616" stroke-width="0.08" textLength="4.4" lengthAdjust="spacingAndGlyphs">6</text>
<path d="M420.4,501.1 V504.1" stroke="#333" stroke-width="0.85"/>
<text x="418.2" y="514.7" font-size="8.4" fill="#161616" stroke="#161616" stroke-width="0.08" textLength="4.4" lengthAdjust="spacingAndGlyphs">7</text>
<path d="M428.6,501.1 V504.1" stroke="#333" stroke-width="0.85"/>
<text x="426.4" y="514.7" font-size="8.4" fill="#161616" stroke="#161616" stroke-width="0.08" textLength="4.4" lengthAdjust="spacingAndGlyphs">8</text>
<path d="M436.8,501.1 V504.1" stroke="#333" stroke-width="0.85"/>
<text x="434.1" y="514.7" font-size="8.4" fill="#161616" stroke="#161616" stroke-width="0.08" textLength="4.4" lengthAdjust="spacingAndGlyphs">9</text>
<path d="M445.0,501.1 V504.1" stroke="#333" stroke-width="0.85"/>
<text x="440.6" y="514.7" font-size="8.4" fill="#161616" stroke="#161616" stroke-width="0.08" textLength="8.0" lengthAdjust="spacingAndGlyphs">10</text>
<path d="M447.2,453.1 V462.9" stroke="#111" stroke-width="1.3"/>
<text transform="translate(449.3,452.6) rotate(90)" font-size="10.5" font-weight="bold" fill="#111" textLength="12.5" lengthAdjust="spacingAndGlyphs">***</text>
<path d="M544.1,414.6 V501.1" stroke="#555" stroke-width="0.55" stroke-dasharray="0.7,0.5"/>
<rect x="519.4" y="446.7" width="0.9" height="0.9" fill="#35a9dc" fill-opacity="0.4"/>
<rect x="518.9" y="452.2" width="0.9" height="0.9" fill="#35a9dc" fill-opacity="0.4"/>
<rect x="519.2" y="449.2" width="0.9" height="0.9" fill="#35a9dc" fill-opacity="0.4"/>
<rect x="518.8" y="441.9" width="0.9" height="0.9" fill="#35a9dc" fill-opacity="0.4"/>
<rect x="518.8" y="441.1" width="0.9" height="0.9" fill="#35a9dc" fill-opacity="0.4"/>
<rect x="518.8" y="456.1" width="0.9" height="0.9" fill="#35a9dc" fill-opacity="0.4"/>
<rect x="518.9" y="455.5" width="0.9" height="0.9" fill="#35a9dc" fill-opacity="0.4"/>
<rect x="519.2" y="469.3" width="0.9" height="0.9" fill="#35a9dc" fill-opacity="0.4"/>
<rect x="518.7" y="450.4" width="0.9" height="0.9" fill="#35a9dc" fill-opacity="0.4"/>
<rect x="551.8" y="437.8" width="0.9" height="0.9" fill="#35a9dc" fill-opacity="0.4"/>
<rect x="552.2" y="443.9" width="0.9" height="0.9" fill="#35a9dc" fill-opacity="0.4"/>
<rect x="551.8" y="422.0" width="0.9" height="0.9" fill="#35a9dc" fill-opacity="0.4"/>
<rect x="551.6" y="435.6" width="0.9" height="0.9" fill="#35a9dc" fill-opacity="0.4"/>
<rect x="551.6" y="435.0" width="0.9" height="0.9" fill="#35a9dc" fill-opacity="0.4"/>
<rect x="551.8" y="449.6" width="0.9" height="0.9" fill="#35a9dc" fill-opacity="0.4"/>
<rect x="552.1" y="441.3" width="0.9" height="0.9" fill="#35a9dc" fill-opacity="0.4"/>
<rect x="552.0" y="423.6" width="0.9" height="0.9" fill="#35a9dc" fill-opacity="0.4"/>
<rect x="551.8" y="438.9" width="0.9" height="0.9" fill="#35a9dc" fill-opacity="0.4"/>
<rect x="559.8" y="431.4" width="0.9" height="0.9" fill="#35a9dc" fill-opacity="0.4"/>
<rect x="560.2" y="433.5" width="0.9" height="0.9" fill="#35a9dc" fill-opacity="0.4"/>
<rect x="560.4" y="427.3" width="0.9" height="0.9" fill="#35a9dc" fill-opacity="0.4"/>
<rect x="560.2" y="446.5" width="0.9" height="0.9" fill="#35a9dc" fill-opacity="0.4"/>
<rect x="560.0" y="442.7" width="0.9" height="0.9" fill="#35a9dc" fill-opacity="0.4"/>
<rect x="560.4" y="457.8" width="0.9" height="0.9" fill="#35a9dc" fill-opacity="0.4"/>
<rect x="560.3" y="433.7" width="0.9" height="0.9" fill="#35a9dc" fill-opacity="0.4"/>
<rect x="560.2" y="419.8" width="0.9" height="0.9" fill="#35a9dc" fill-opacity="0.4"/>
<rect x="560.2" y="431.2" width="0.9" height="0.9" fill="#35a9dc" fill-opacity="0.4"/>
<rect x="568.4" y="445.3" width="0.9" height="0.9" fill="#35a9dc" fill-opacity="0.4"/>
<rect x="567.9" y="423.7" width="0.9" height="0.9" fill="#35a9dc" fill-opacity="0.4"/>
<rect x="568.4" y="452.5" width="0.9" height="0.9" fill="#35a9dc" fill-opacity="0.4"/>
<rect x="568.4" y="442.2" width="0.9" height="0.9" fill="#35a9dc" fill-opacity="0.4"/>
<rect x="568.2" y="455.0" width="0.9" height="0.9" fill="#35a9dc" fill-opacity="0.4"/>
<rect x="568.3" y="426.9" width="0.9" height="0.9" fill="#35a9dc" fill-opacity="0.4"/>
<rect x="568.6" y="452.1" width="0.9" height="0.9" fill="#35a9dc" fill-opacity="0.4"/>
<rect x="568.0" y="430.3" width="0.9" height="0.9" fill="#35a9dc" fill-opacity="0.4"/>
<rect x="568.2" y="424.8" width="0.9" height="0.9" fill="#35a9dc" fill-opacity="0.4"/>
<rect x="576.4" y="444.9" width="0.9" height="0.9" fill="#35a9dc" fill-opacity="0.4"/>
<rect x="576.5" y="441.1" width="0.9" height="0.9" fill="#35a9dc" fill-opacity="0.4"/>
<rect x="576.2" y="447.2" width="0.9" height="0.9" fill="#35a9dc" fill-opacity="0.4"/>
<rect x="576.5" y="414.2" width="0.9" height="0.9" fill="#35a9dc" fill-opacity="0.4"/>
<rect x="576.1" y="428.5" width="0.9" height="0.9" fill="#35a9dc" fill-opacity="0.4"/>
<rect x="576.6" y="435.0" width="0.9" height="0.9" fill="#35a9dc" fill-opacity="0.4"/>
<rect x="576.5" y="427.5" width="0.9" height="0.9" fill="#35a9dc" fill-opacity="0.4"/>
<rect x="576.5" y="424.7" width="0.9" height="0.9" fill="#35a9dc" fill-opacity="0.4"/>
<rect x="576.4" y="449.3" width="0.9" height="0.9" fill="#35a9dc" fill-opacity="0.4"/>
<rect x="584.8" y="439.1" width="0.9" height="0.9" fill="#35a9dc" fill-opacity="0.4"/>
<rect x="584.6" y="442.1" width="0.9" height="0.9" fill="#35a9dc" fill-opacity="0.4"/>
<rect x="585.0" y="435.8" width="0.9" height="0.9" fill="#35a9dc" fill-opacity="0.4"/>
<rect x="584.5" y="450.2" width="0.9" height="0.9" fill="#35a9dc" fill-opacity="0.4"/>
<rect x="584.6" y="444.8" width="0.9" height="0.9" fill="#35a9dc" fill-opacity="0.4"/>
<rect x="584.3" y="431.3" width="0.9" height="0.9" fill="#35a9dc" fill-opacity="0.4"/>
<rect x="584.8" y="447.5" width="0.9" height="0.9" fill="#35a9dc" fill-opacity="0.4"/>
<rect x="584.5" y="440.9" width="0.9" height="0.9" fill="#35a9dc" fill-opacity="0.4"/>
<rect x="584.8" y="449.7" width="0.9" height="0.9" fill="#35a9dc" fill-opacity="0.4"/>
<rect x="593.2" y="433.5" width="0.9" height="0.9" fill="#35a9dc" fill-opacity="0.4"/>
<rect x="593.1" y="439.8" width="0.9" height="0.9" fill="#35a9dc" fill-opacity="0.4"/>
<rect x="592.8" y="442.5" width="0.9" height="0.9" fill="#35a9dc" fill-opacity="0.4"/>
<rect x="593.1" y="446.8" width="0.9" height="0.9" fill="#35a9dc" fill-opacity="0.4"/>
<rect x="593.1" y="432.9" width="0.9" height="0.9" fill="#35a9dc" fill-opacity="0.4"/>
<rect x="592.9" y="431.9" width="0.9" height="0.9" fill="#35a9dc" fill-opacity="0.4"/>
<rect x="592.6" y="451.2" width="0.9" height="0.9" fill="#35a9dc" fill-opacity="0.4"/>
<rect x="593.0" y="438.8" width="0.9" height="0.9" fill="#35a9dc" fill-opacity="0.4"/>
<rect x="593.1" y="446.2" width="0.9" height="0.9" fill="#35a9dc" fill-opacity="0.4"/>
<rect x="600.9" y="430.6" width="0.9" height="0.9" fill="#35a9dc" fill-opacity="0.4"/>
<rect x="601.1" y="454.9" width="0.9" height="0.9" fill="#35a9dc" fill-opacity="0.4"/>
<rect x="600.9" y="454.9" width="0.9" height="0.9" fill="#35a9dc" fill-opacity="0.4"/>
<rect x="601.3" y="440.1" width="0.9" height="0.9" fill="#35a9dc" fill-opacity="0.4"/>
<rect x="600.9" y="451.1" width="0.9" height="0.9" fill="#35a9dc" fill-opacity="0.4"/>
<rect x="601.0" y="441.4" width="0.9" height="0.9" fill="#35a9dc" fill-opacity="0.4"/>
<rect x="601.2" y="441.8" width="0.9" height="0.9" fill="#35a9dc" fill-opacity="0.4"/>
<rect x="600.9" y="441.4" width="0.9" height="0.9" fill="#35a9dc" fill-opacity="0.4"/>
<rect x="601.0" y="449.8" width="0.9" height="0.9" fill="#35a9dc" fill-opacity="0.4"/>
<rect x="519.0" y="443.9" width="0.9" height="0.9" fill="#c893cc" fill-opacity="0.4"/>
<rect x="518.9" y="442.5" width="0.9" height="0.9" fill="#c893cc" fill-opacity="0.4"/>
<rect x="519.4" y="454.6" width="0.9" height="0.9" fill="#c893cc" fill-opacity="0.4"/>
<rect x="519.3" y="450.2" width="0.9" height="0.9" fill="#c893cc" fill-opacity="0.4"/>
<rect x="519.4" y="453.7" width="0.9" height="0.9" fill="#c893cc" fill-opacity="0.4"/>
<rect x="519.3" y="447.7" width="0.9" height="0.9" fill="#c893cc" fill-opacity="0.4"/>
<rect x="519.2" y="454.0" width="0.9" height="0.9" fill="#c893cc" fill-opacity="0.4"/>
<rect x="519.4" y="452.8" width="0.9" height="0.9" fill="#c893cc" fill-opacity="0.4"/>
<rect x="519.2" y="452.6" width="0.9" height="0.9" fill="#c893cc" fill-opacity="0.4"/>
<rect x="551.6" y="458.0" width="0.9" height="0.9" fill="#c893cc" fill-opacity="0.4"/>
<rect x="551.6" y="454.7" width="0.9" height="0.9" fill="#c893cc" fill-opacity="0.4"/>
<rect x="551.6" y="443.4" width="0.9" height="0.9" fill="#c893cc" fill-opacity="0.4"/>
<rect x="552.2" y="454.7" width="0.9" height="0.9" fill="#c893cc" fill-opacity="0.4"/>
<rect x="552.2" y="446.8" width="0.9" height="0.9" fill="#c893cc" fill-opacity="0.4"/>
<rect x="551.9" y="456.1" width="0.9" height="0.9" fill="#c893cc" fill-opacity="0.4"/>
<rect x="552.2" y="437.5" width="0.9" height="0.9" fill="#c893cc" fill-opacity="0.4"/>
<rect x="552.1" y="456.8" width="0.9" height="0.9" fill="#c893cc" fill-opacity="0.4"/>
<rect x="552.0" y="447.1" width="0.9" height="0.9" fill="#c893cc" fill-opacity="0.4"/>
<rect x="560.1" y="458.5" width="0.9" height="0.9" fill="#c893cc" fill-opacity="0.4"/>
<rect x="560.4" y="447.6" width="0.9" height="0.9" fill="#c893cc" fill-opacity="0.4"/>
<rect x="560.1" y="458.3" width="0.9" height="0.9" fill="#c893cc" fill-opacity="0.4"/>
<rect x="559.8" y="466.8" width="0.9" height="0.9" fill="#c893cc" fill-opacity="0.4"/>
<rect x="560.0" y="470.2" width="0.9" height="0.9" fill="#c893cc" fill-opacity="0.4"/>
<rect x="559.8" y="463.3" width="0.9" height="0.9" fill="#c893cc" fill-opacity="0.4"/>
<rect x="560.0" y="445.8" width="0.9" height="0.9" fill="#c893cc" fill-opacity="0.4"/>
<rect x="560.3" y="459.2" width="0.9" height="0.9" fill="#c893cc" fill-opacity="0.4"/>
<rect x="559.7" y="465.5" width="0.9" height="0.9" fill="#c893cc" fill-opacity="0.4"/>
<rect x="568.3" y="453.8" width="0.9" height="0.9" fill="#c893cc" fill-opacity="0.4"/>
<rect x="568.4" y="470.0" width="0.9" height="0.9" fill="#c893cc" fill-opacity="0.4"/>
<rect x="568.2" y="455.2" width="0.9" height="0.9" fill="#c893cc" fill-opacity="0.4"/>
<rect x="568.6" y="478.2" width="0.9" height="0.9" fill="#c893cc" fill-opacity="0.4"/>
<rect x="568.4" y="471.4" width="0.9" height="0.9" fill="#c893cc" fill-opacity="0.4"/>
<rect x="567.9" y="451.4" width="0.9" height="0.9" fill="#c893cc" fill-opacity="0.4"/>
<rect x="568.6" y="453.6" width="0.9" height="0.9" fill="#c893cc" fill-opacity="0.4"/>
<rect x="568.1" y="477.3" width="0.9" height="0.9" fill="#c893cc" fill-opacity="0.4"/>
<rect x="568.2" y="462.7" width="0.9" height="0.9" fill="#c893cc" fill-opacity="0.4"/>
<rect x="576.8" y="486.9" width="0.9" height="0.9" fill="#c893cc" fill-opacity="0.4"/>
<rect x="576.6" y="473.0" width="0.9" height="0.9" fill="#c893cc" fill-opacity="0.4"/>
<rect x="576.3" y="476.2" width="0.9" height="0.9" fill="#c893cc" fill-opacity="0.4"/>
<rect x="576.4" y="460.8" width="0.9" height="0.9" fill="#c893cc" fill-opacity="0.4"/>
<rect x="576.5" y="470.2" width="0.9" height="0.9" fill="#c893cc" fill-opacity="0.4"/>
<rect x="576.4" y="461.4" width="0.9" height="0.9" fill="#c893cc" fill-opacity="0.4"/>
<rect x="576.4" y="449.0" width="0.9" height="0.9" fill="#c893cc" fill-opacity="0.4"/>
<rect x="576.3" y="462.0" width="0.9" height="0.9" fill="#c893cc" fill-opacity="0.4"/>
<rect x="576.7" y="458.0" width="0.9" height="0.9" fill="#c893cc" fill-opacity="0.4"/>
<rect x="584.5" y="485.0" width="0.9" height="0.9" fill="#c893cc" fill-opacity="0.4"/>
<rect x="584.7" y="492.6" width="0.9" height="0.9" fill="#c893cc" fill-opacity="0.4"/>
<rect x="584.9" y="476.1" width="0.9" height="0.9" fill="#c893cc" fill-opacity="0.4"/>
<rect x="584.5" y="474.9" width="0.9" height="0.9" fill="#c893cc" fill-opacity="0.4"/>
<rect x="584.7" y="486.0" width="0.9" height="0.9" fill="#c893cc" fill-opacity="0.4"/>
<rect x="584.8" y="479.0" width="0.9" height="0.9" fill="#c893cc" fill-opacity="0.4"/>
<rect x="584.8" y="475.6" width="0.9" height="0.9" fill="#c893cc" fill-opacity="0.4"/>
<rect x="585.0" y="475.3" width="0.9" height="0.9" fill="#c893cc" fill-opacity="0.4"/>
<rect x="584.5" y="477.5" width="0.9" height="0.9" fill="#c893cc" fill-opacity="0.4"/>
<rect x="592.5" y="490.1" width="0.9" height="0.9" fill="#c893cc" fill-opacity="0.4"/>
<rect x="593.0" y="487.4" width="0.9" height="0.9" fill="#c893cc" fill-opacity="0.4"/>
<rect x="592.9" y="463.1" width="0.9" height="0.9" fill="#c893cc" fill-opacity="0.4"/>
<rect x="592.9" y="472.7" width="0.9" height="0.9" fill="#c893cc" fill-opacity="0.4"/>
<rect x="592.9" y="472.5" width="0.9" height="0.9" fill="#c893cc" fill-opacity="0.4"/>
<rect x="593.0" y="485.7" width="0.9" height="0.9" fill="#c893cc" fill-opacity="0.4"/>
<rect x="592.8" y="495.7" width="0.9" height="0.9" fill="#c893cc" fill-opacity="0.4"/>
<rect x="593.1" y="487.2" width="0.9" height="0.9" fill="#c893cc" fill-opacity="0.4"/>
<rect x="600.7" y="489.4" width="0.9" height="0.9" fill="#c893cc" fill-opacity="0.4"/>
<rect x="601.3" y="496.7" width="0.9" height="0.9" fill="#c893cc" fill-opacity="0.4"/>
<rect x="600.9" y="480.0" width="0.9" height="0.9" fill="#c893cc" fill-opacity="0.4"/>
<rect x="601.3" y="488.7" width="0.9" height="0.9" fill="#c893cc" fill-opacity="0.4"/>
<rect x="600.9" y="475.8" width="0.9" height="0.9" fill="#c893cc" fill-opacity="0.4"/>
<rect x="600.9" y="479.8" width="0.9" height="0.9" fill="#c893cc" fill-opacity="0.4"/>
<rect x="601.0" y="489.7" width="0.9" height="0.9" fill="#c893cc" fill-opacity="0.4"/>
<rect x="601.2" y="488.8" width="0.9" height="0.9" fill="#c893cc" fill-opacity="0.4"/>
<rect x="601.1" y="485.1" width="0.9" height="0.9" fill="#c893cc" fill-opacity="0.4"/>
<rect x="518.7" y="463.2" width="0.9" height="0.9" fill="#e87468" fill-opacity="0.4"/>
<rect x="519.1" y="462.3" width="0.9" height="0.9" fill="#e87468" fill-opacity="0.4"/>
<rect x="519.4" y="450.4" width="0.9" height="0.9" fill="#e87468" fill-opacity="0.4"/>
<rect x="519.0" y="452.2" width="0.9" height="0.9" fill="#e87468" fill-opacity="0.4"/>
<rect x="519.1" y="474.0" width="0.9" height="0.9" fill="#e87468" fill-opacity="0.4"/>
<rect x="519.0" y="442.6" width="0.9" height="0.9" fill="#e87468" fill-opacity="0.4"/>
<rect x="519.0" y="461.6" width="0.9" height="0.9" fill="#e87468" fill-opacity="0.4"/>
<rect x="518.8" y="459.1" width="0.9" height="0.9" fill="#e87468" fill-opacity="0.4"/>
<rect x="518.8" y="452.6" width="0.9" height="0.9" fill="#e87468" fill-opacity="0.4"/>
<rect x="552.0" y="460.7" width="0.9" height="0.9" fill="#e87468" fill-opacity="0.4"/>
<rect x="551.5" y="466.5" width="0.9" height="0.9" fill="#e87468" fill-opacity="0.4"/>
<rect x="552.1" y="459.3" width="0.9" height="0.9" fill="#e87468" fill-opacity="0.4"/>
<rect x="551.6" y="483.1" width="0.9" height="0.9" fill="#e87468" fill-opacity="0.4"/>
<rect x="551.6" y="463.1" width="0.9" height="0.9" fill="#e87468" fill-opacity="0.4"/>
<rect x="552.0" y="462.3" width="0.9" height="0.9" fill="#e87468" fill-opacity="0.4"/>
<rect x="552.1" y="464.8" width="0.9" height="0.9" fill="#e87468" fill-opacity="0.4"/>
<rect x="552.0" y="474.7" width="0.9" height="0.9" fill="#e87468" fill-opacity="0.4"/>
<rect x="551.5" y="442.4" width="0.9" height="0.9" fill="#e87468" fill-opacity="0.4"/>
<rect x="560.2" y="464.5" width="0.9" height="0.9" fill="#e87468" fill-opacity="0.4"/>
<rect x="560.4" y="454.0" width="0.9" height="0.9" fill="#e87468" fill-opacity="0.4"/>
<rect x="559.9" y="488.9" width="0.9" height="0.9" fill="#e87468" fill-opacity="0.4"/>
<rect x="559.7" y="463.6" width="0.9" height="0.9" fill="#e87468" fill-opacity="0.4"/>
<rect x="559.7" y="453.9" width="0.9" height="0.9" fill="#e87468" fill-opacity="0.4"/>
<rect x="559.7" y="448.3" width="0.9" height="0.9" fill="#e87468" fill-opacity="0.4"/>
<rect x="559.9" y="467.2" width="0.9" height="0.9" fill="#e87468" fill-opacity="0.4"/>
<rect x="560.3" y="460.3" width="0.9" height="0.9" fill="#e87468" fill-opacity="0.4"/>
<rect x="560.0" y="480.1" width="0.9" height="0.9" fill="#e87468" fill-opacity="0.4"/>
<rect x="568.3" y="480.0" width="0.9" height="0.9" fill="#e87468" fill-opacity="0.4"/>
<rect x="568.2" y="473.1" width="0.9" height="0.9" fill="#e87468" fill-opacity="0.4"/>
<rect x="568.5" y="470.2" width="0.9" height="0.9" fill="#e87468" fill-opacity="0.4"/>
<rect x="568.1" y="466.1" width="0.9" height="0.9" fill="#e87468" fill-opacity="0.4"/>
<rect x="568.2" y="463.3" width="0.9" height="0.9" fill="#e87468" fill-opacity="0.4"/>
<rect x="568.2" y="482.1" width="0.9" height="0.9" fill="#e87468" fill-opacity="0.4"/>
<rect x="568.5" y="449.2" width="0.9" height="0.9" fill="#e87468" fill-opacity="0.4"/>
<rect x="568.3" y="474.9" width="0.9" height="0.9" fill="#e87468" fill-opacity="0.4"/>
<rect x="568.6" y="479.8" width="0.9" height="0.9" fill="#e87468" fill-opacity="0.4"/>
<rect x="576.6" y="490.1" width="0.9" height="0.9" fill="#e87468" fill-opacity="0.4"/>
<rect x="576.5" y="479.0" width="0.9" height="0.9" fill="#e87468" fill-opacity="0.4"/>
<rect x="576.8" y="492.3" width="0.9" height="0.9" fill="#e87468" fill-opacity="0.4"/>
<rect x="576.3" y="475.5" width="0.9" height="0.9" fill="#e87468" fill-opacity="0.4"/>
<rect x="576.4" y="493.0" width="0.9" height="0.9" fill="#e87468" fill-opacity="0.4"/>
<rect x="576.6" y="480.5" width="0.9" height="0.9" fill="#e87468" fill-opacity="0.4"/>
<rect x="576.5" y="499.4" width="0.9" height="0.9" fill="#e87468" fill-opacity="0.4"/>
<rect x="576.3" y="476.2" width="0.9" height="0.9" fill="#e87468" fill-opacity="0.4"/>
<rect x="576.1" y="485.5" width="0.9" height="0.9" fill="#e87468" fill-opacity="0.4"/>
<rect x="584.7" y="496.9" width="0.9" height="0.9" fill="#e87468" fill-opacity="0.4"/>
<rect x="584.9" y="491.0" width="0.9" height="0.9" fill="#e87468" fill-opacity="0.4"/>
<rect x="584.9" y="488.0" width="0.9" height="0.9" fill="#e87468" fill-opacity="0.4"/>
<rect x="584.9" y="495.7" width="0.9" height="0.9" fill="#e87468" fill-opacity="0.4"/>
<rect x="584.5" y="482.4" width="0.9" height="0.9" fill="#e87468" fill-opacity="0.4"/>
<rect x="584.9" y="493.2" width="0.9" height="0.9" fill="#e87468" fill-opacity="0.4"/>
<rect x="585.0" y="479.1" width="0.9" height="0.9" fill="#e87468" fill-opacity="0.4"/>
<rect x="584.5" y="497.2" width="0.9" height="0.9" fill="#e87468" fill-opacity="0.4"/>
<rect x="584.9" y="494.0" width="0.9" height="0.9" fill="#e87468" fill-opacity="0.4"/>
<rect x="592.6" y="490.0" width="0.9" height="0.9" fill="#e87468" fill-opacity="0.4"/>
<rect x="592.6" y="475.9" width="0.9" height="0.9" fill="#e87468" fill-opacity="0.4"/>
<rect x="592.9" y="487.0" width="0.9" height="0.9" fill="#e87468" fill-opacity="0.4"/>
<rect x="592.6" y="483.8" width="0.9" height="0.9" fill="#e87468" fill-opacity="0.4"/>
<rect x="592.7" y="490.0" width="0.9" height="0.9" fill="#e87468" fill-opacity="0.4"/>
<rect x="592.8" y="479.2" width="0.9" height="0.9" fill="#e87468" fill-opacity="0.4"/>
<rect x="592.5" y="493.6" width="0.9" height="0.9" fill="#e87468" fill-opacity="0.4"/>
<rect x="592.6" y="480.1" width="0.9" height="0.9" fill="#e87468" fill-opacity="0.4"/>
<rect x="601.1" y="486.4" width="0.9" height="0.9" fill="#e87468" fill-opacity="0.4"/>
<rect x="601.0" y="490.1" width="0.9" height="0.9" fill="#e87468" fill-opacity="0.4"/>
<rect x="600.8" y="491.2" width="0.9" height="0.9" fill="#e87468" fill-opacity="0.4"/>
<rect x="600.8" y="491.5" width="0.9" height="0.9" fill="#e87468" fill-opacity="0.4"/>
<rect x="601.1" y="488.2" width="0.9" height="0.9" fill="#e87468" fill-opacity="0.4"/>
<rect x="601.0" y="490.0" width="0.9" height="0.9" fill="#e87468" fill-opacity="0.4"/>
<rect x="600.7" y="492.7" width="0.9" height="0.9" fill="#e87468" fill-opacity="0.4"/>
<rect x="601.4" y="491.3" width="0.9" height="0.9" fill="#e87468" fill-opacity="0.4"/>
<rect x="601.2" y="494.8" width="0.9" height="0.9" fill="#e87468" fill-opacity="0.4"/>
<polygon points="519.5,441.9 544.1,435.7 552.3,433.7 560.5,435.0 568.7,436.3 576.9,435.9 585.1,436.1 593.3,435.8 601.5,436.2 601.5,447.0 593.3,447.4 585.1,448.1 576.9,448.3 568.7,449.1 560.5,446.6 552.3,445.1 544.1,446.7 519.5,451.5" fill="#35a9dc" fill-opacity="0.27"/>
<polygon points="519.5,448.3 544.1,448.1 552.3,447.9 560.5,453.9 568.7,458.9 576.9,463.6 585.1,473.6 593.3,478.2 601.5,482.3 601.5,491.1 593.3,487.8 585.1,484.0 576.9,475.6 568.7,470.5 560.5,465.1 552.3,459.1 544.1,458.9 519.5,457.9" fill="#c893cc" fill-opacity="0.27"/>
<polygon points="519.5,447.7 544.1,451.6 552.3,453.5 560.5,461.7 568.7,470.4 576.9,481.9 585.1,486.0 593.3,487.2 601.5,490.7 601.5,496.3 593.3,493.6 585.1,493.6 576.9,491.5 568.7,482.4 560.5,475.7 552.3,468.5 544.1,465.6 519.5,456.7" fill="#e87468" fill-opacity="0.27"/>
<polyline points="519.5,446.7 544.1,441.2 552.3,439.4 560.5,440.8 568.7,442.7 576.9,442.1 585.1,442.1 593.3,441.6 601.5,441.6" fill="none" stroke="#35a9dc" stroke-width="0.85" stroke-linejoin="round"/>
<polyline points="519.5,453.1 544.1,453.5 552.3,453.5 560.5,459.5 568.7,464.7 576.9,469.6 585.1,478.8 593.3,483.0 601.5,486.7" fill="none" stroke="#c893cc" stroke-width="0.85" stroke-linejoin="round"/>
<polyline points="519.5,452.2 544.1,458.6 552.3,461.0 560.5,468.7 568.7,476.4 576.9,486.7 585.1,489.8 593.3,490.4 601.5,493.5" fill="none" stroke="#e87468" stroke-width="0.85" stroke-linejoin="round"/>
<path d="M515.5,414.6 V501.1 H606.1" stroke="#333" stroke-width="0.85" fill="none"/>
<path d="M512.3,414.6 H515.5" stroke="#333" stroke-width="0.85"/>
<text x="487.7" y="417.8" font-size="9.0" fill="#161616" stroke="#161616" stroke-width="0.08" textLength="21.1" lengthAdjust="spacingAndGlyphs">7,000</text>
<path d="M512.3,426.9 H515.5" stroke="#333" stroke-width="0.85"/>
<text x="487.7" y="430.1" font-size="9.0" fill="#161616" stroke="#161616" stroke-width="0.08" textLength="21.1" lengthAdjust="spacingAndGlyphs">6,000</text>
<path d="M512.3,439.4 H515.5" stroke="#333" stroke-width="0.85"/>
<text x="487.7" y="442.6" font-size="9.0" fill="#161616" stroke="#161616" stroke-width="0.08" textLength="21.1" lengthAdjust="spacingAndGlyphs">5,000</text>
<path d="M512.3,451.7 H515.5" stroke="#333" stroke-width="0.85"/>
<text x="487.7" y="454.9" font-size="9.0" fill="#161616" stroke="#161616" stroke-width="0.08" textLength="21.1" lengthAdjust="spacingAndGlyphs">4,000</text>
<path d="M512.3,464.1 H515.5" stroke="#333" stroke-width="0.85"/>
<text x="487.7" y="467.3" font-size="9.0" fill="#161616" stroke="#161616" stroke-width="0.08" textLength="21.1" lengthAdjust="spacingAndGlyphs">3,000</text>
<path d="M512.3,476.4 H515.5" stroke="#333" stroke-width="0.85"/>
<text x="487.7" y="479.6" font-size="9.0" fill="#161616" stroke="#161616" stroke-width="0.08" textLength="21.1" lengthAdjust="spacingAndGlyphs">2,000</text>
<path d="M512.3,488.9 H515.5" stroke="#333" stroke-width="0.85"/>
<text x="487.7" y="492.1" font-size="9.0" fill="#161616" stroke="#161616" stroke-width="0.08" textLength="21.1" lengthAdjust="spacingAndGlyphs">1,000</text>
<path d="M512.3,500.8 H515.5" stroke="#333" stroke-width="0.85"/>
<text x="504.4" y="504.0" font-size="9.0" fill="#161616" stroke="#161616" stroke-width="0.08" textLength="4.4" lengthAdjust="spacingAndGlyphs">0</text>
<path d="M519.5,501.1 V504.1" stroke="#333" stroke-width="0.85"/>
<text x="517.3" y="514.7" font-size="8.4" fill="#161616" stroke="#161616" stroke-width="0.08" textLength="4.4" lengthAdjust="spacingAndGlyphs">0</text>
<path d="M544.1,501.1 V504.1" stroke="#333" stroke-width="0.85"/>
<text x="541.9" y="514.7" font-size="8.4" fill="#161616" stroke="#161616" stroke-width="0.08" textLength="4.4" lengthAdjust="spacingAndGlyphs">3</text>
<path d="M552.3,501.1 V504.1" stroke="#333" stroke-width="0.85"/>
<text x="550.1" y="514.7" font-size="8.4" fill="#161616" stroke="#161616" stroke-width="0.08" textLength="4.4" lengthAdjust="spacingAndGlyphs">4</text>
<path d="M560.5,501.1 V504.1" stroke="#333" stroke-width="0.85"/>
<text x="558.3" y="514.7" font-size="8.4" fill="#161616" stroke="#161616" stroke-width="0.08" textLength="4.4" lengthAdjust="spacingAndGlyphs">5</text>
<path d="M568.7,501.1 V504.1" stroke="#333" stroke-width="0.85"/>
<text x="566.5" y="514.7" font-size="8.4" fill="#161616" stroke="#161616" stroke-width="0.08" textLength="4.4" lengthAdjust="spacingAndGlyphs">6</text>
<path d="M576.9,501.1 V504.1" stroke="#333" stroke-width="0.85"/>
<text x="574.7" y="514.7" font-size="8.4" fill="#161616" stroke="#161616" stroke-width="0.08" textLength="4.4" lengthAdjust="spacingAndGlyphs">7</text>
<path d="M585.1,501.1 V504.1" stroke="#333" stroke-width="0.85"/>
<text x="582.9" y="514.7" font-size="8.4" fill="#161616" stroke="#161616" stroke-width="0.08" textLength="4.4" lengthAdjust="spacingAndGlyphs">8</text>
<path d="M593.3,501.1 V504.1" stroke="#333" stroke-width="0.85"/>
<text x="590.6" y="514.7" font-size="8.4" fill="#161616" stroke="#161616" stroke-width="0.08" textLength="4.4" lengthAdjust="spacingAndGlyphs">9</text>
<path d="M601.5,501.1 V504.1" stroke="#333" stroke-width="0.85"/>
<text x="597.1" y="514.7" font-size="8.4" fill="#161616" stroke="#161616" stroke-width="0.08" textLength="8.0" lengthAdjust="spacingAndGlyphs">10</text>
<path d="M604.2,484.9 V494.4" stroke="#111" stroke-width="1.3"/>
<text x="609.4" y="495.0" font-size="10.5" fill="#111" stroke="#111" stroke-width="0.18" text-anchor="middle" font-weight="bold">*</text>
<text transform="translate(336.4,389.7) rotate(-90)" font-size="9.3" fill="#161616" stroke="#161616" stroke-width="0.22" textLength="62" lengthAdjust="spacingAndGlyphs">Body weight (g)</text>
<text transform="translate(480,381.5) rotate(-90)" font-size="9.3" fill="#161616" stroke="#161616" stroke-width="0.22" textLength="42" lengthAdjust="spacingAndGlyphs">Lean mass</text>
<text transform="translate(490.6,366.0) rotate(-90)" font-size="9.3" fill="#161616" stroke="#161616" stroke-width="0.22" textLength="11" lengthAdjust="spacingAndGlyphs">(g)</text>
<text transform="translate(336.4,485.0) rotate(-90)" font-size="9.3" fill="#161616" stroke="#161616" stroke-width="0.22" textLength="50" lengthAdjust="spacingAndGlyphs">Fat mass (g)</text>
<text transform="translate(479.4,490.0) rotate(-90)" font-size="9.3" fill="#161616" stroke="#161616" stroke-width="0.22" textLength="65" lengthAdjust="spacingAndGlyphs">Distance (cm/h)</text>
<text x="358.7" y="527.6" font-size="9.3" fill="#161616" stroke="#161616" stroke-width="0.16" textLength="91.2" lengthAdjust="spacingAndGlyphs" >Time after attachment</text>
<text x="385.7" y="538.4" font-size="9.3" fill="#161616" stroke="#161616" stroke-width="0.16" textLength="37.2" lengthAdjust="spacingAndGlyphs" >(months)</text>
<text x="515.0" y="527.6" font-size="9.3" fill="#161616" stroke="#161616" stroke-width="0.16" textLength="91.2" lengthAdjust="spacingAndGlyphs" >Time after attachment</text>
<text x="542.0" y="538.4" font-size="9.3" fill="#161616" stroke="#161616" stroke-width="0.16" textLength="37.2" lengthAdjust="spacingAndGlyphs" >(months)</text>
</svg></body></html>
